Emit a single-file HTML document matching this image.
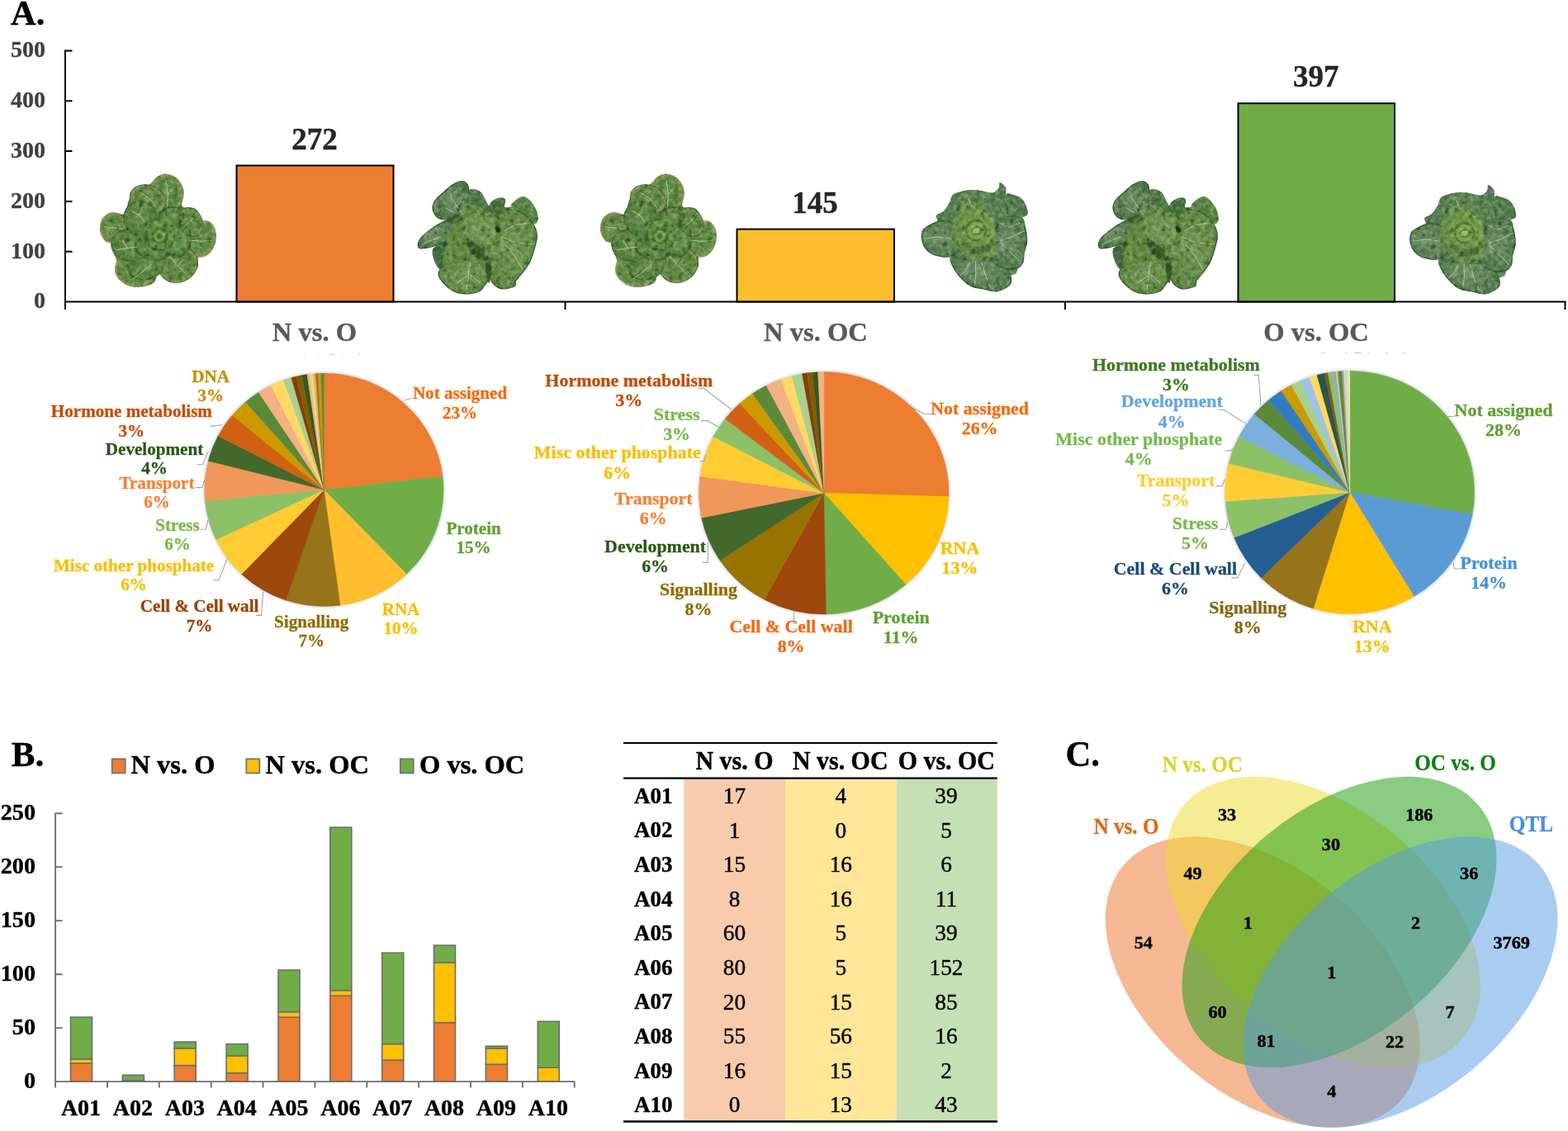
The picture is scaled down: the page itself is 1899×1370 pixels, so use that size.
<!DOCTYPE html>
<html lang="en"><head><meta charset="utf-8"><title>Figure</title>
<style>
html,body{margin:0;padding:0;background:#fff;}
body{width:1899px;height:1370px;overflow:hidden;}
svg{display:block;font-family:'Liberation Serif', 'Times New Roman', serif;}
text{white-space:pre;}
</style></head><body>
<svg width="1899" height="1370" viewBox="0 0 1899 1370">
<rect width="1899" height="1370" fill="#fff"/>
<g id="panelA">
<text x="13.0" y="29.5" font-size="42.5" fill="#000" font-weight="bold" text-anchor="start" stroke="#000" stroke-width="0.4" stroke-linejoin="round" >A.</text>
<rect x="286.5" y="200.5" width="190.0" height="165.1" fill="#ED7D31" stroke="#000" stroke-width="2"/>
<text x="380.9" y="181.1" font-size="37" fill="#262626" font-weight="bold" text-anchor="middle" stroke="#262626" stroke-width="0.4" stroke-linejoin="round" >272</text>
<rect x="892.5" y="277.6" width="190.5" height="88.0" fill="#FDBF2D" stroke="#000" stroke-width="2"/>
<text x="987.1" y="258.4" font-size="37" fill="#262626" font-weight="bold" text-anchor="middle" stroke="#262626" stroke-width="0.4" stroke-linejoin="round" >145</text>
<rect x="1499.5" y="125.2" width="189.5" height="240.4" fill="#70AD47" stroke="#000" stroke-width="2"/>
<text x="1593.7" y="105.1" font-size="37" fill="#262626" font-weight="bold" text-anchor="middle" stroke="#262626" stroke-width="0.4" stroke-linejoin="round" >397</text>
<path d="M79 60.4V375.1M78 365.6H1896.5" stroke="#000" stroke-width="2" fill="none"/>
<path d="M79 61.4h8.5M79 122.2h8.5M79 183.1h8.5M79 243.9h8.5M79 304.8h8.5M684.5 365.6v9.5M1290 365.6v9.5M1895.5 365.6v9.5" stroke="#000" stroke-width="2" fill="none"/>
<text x="55.0" y="69.1" font-size="28" fill="#404040" font-weight="bold" text-anchor="end" stroke="#404040" stroke-width="0.35" stroke-linejoin="round" >500</text>
<text x="55.0" y="129.9" font-size="28" fill="#404040" font-weight="bold" text-anchor="end" stroke="#404040" stroke-width="0.35" stroke-linejoin="round" >400</text>
<text x="55.0" y="190.8" font-size="28" fill="#404040" font-weight="bold" text-anchor="end" stroke="#404040" stroke-width="0.35" stroke-linejoin="round" >300</text>
<text x="55.0" y="251.6" font-size="28" fill="#404040" font-weight="bold" text-anchor="end" stroke="#404040" stroke-width="0.35" stroke-linejoin="round" >200</text>
<text x="55.0" y="312.5" font-size="28" fill="#404040" font-weight="bold" text-anchor="end" stroke="#404040" stroke-width="0.35" stroke-linejoin="round" >100</text>
<text x="55.0" y="373.3" font-size="28" fill="#404040" font-weight="bold" text-anchor="end" stroke="#404040" stroke-width="0.35" stroke-linejoin="round" >0</text>
<text x="381.0" y="413.4" font-size="32.6" fill="#595959" font-weight="bold" text-anchor="middle" stroke="#595959" stroke-width="0.35" stroke-linejoin="round" >N vs. O</text>
<text x="988.0" y="413.4" font-size="32.6" fill="#595959" font-weight="bold" text-anchor="middle" stroke="#595959" stroke-width="0.35" stroke-linejoin="round" >N vs. OC</text>
<text x="1594.0" y="413.4" font-size="32.6" fill="#595959" font-weight="bold" text-anchor="middle" stroke="#595959" stroke-width="0.35" stroke-linejoin="round" >O vs. OC</text>
</g>
<defs>
<radialGradient id="gN" cx="50%" cy="50%" r="50%"><stop offset="0" stop-color="#648d47"/><stop offset="0.65" stop-color="#527e37"/><stop offset="0.9" stop-color="#698940"/><stop offset="1" stop-color="#909059"/></radialGradient>
<radialGradient id="gNi" cx="50%" cy="50%" r="50%"><stop offset="0" stop-color="#628d45"/><stop offset="0.8" stop-color="#4d7a35"/><stop offset="1" stop-color="#44702e"/></radialGradient>
<radialGradient id="gO" cx="45%" cy="45%" r="60%"><stop offset="0" stop-color="#6c8c5f"/><stop offset="0.7" stop-color="#4d7748"/><stop offset="1" stop-color="#40693c"/></radialGradient>
<radialGradient id="gO2" cx="50%" cy="50%" r="60%"><stop offset="0" stop-color="#6e924f"/><stop offset="0.7" stop-color="#5b843e"/><stop offset="1" stop-color="#4d7735"/></radialGradient>
<radialGradient id="gC" cx="50%" cy="50%" r="60%"><stop offset="0" stop-color="#698c62"/><stop offset="0.7" stop-color="#4f784c"/><stop offset="1" stop-color="#416b40"/></radialGradient>
<radialGradient id="gCi" cx="50%" cy="50%" r="50%"><stop offset="0" stop-color="#79a14c"/><stop offset="0.7" stop-color="#5f8b3c"/><stop offset="1" stop-color="#527e37"/></radialGradient>
<filter id="soft" x="-5%" y="-5%" width="110%" height="110%" color-interpolation-filters="sRGB"><feGaussianBlur in="SourceGraphic" stdDeviation="4" result="b"/><feTurbulence type="fractalNoise" baseFrequency="0.02 0.02" numOctaves="3" seed="7" result="n"/><feColorMatrix in="n" type="matrix" values="0 0 0 0 0.85  0 0 0 0 0.93  0 0 0 0 0.75  0.8 0 0 0 -0.31" result="l"/><feComposite in="l" in2="b" operator="in" result="li"/><feColorMatrix in="n" type="matrix" values="0 0 0 0 0.08  0 0 0 0 0.18  0 0 0 0 0.05  0 -1.6 0 0 0.75" result="d"/><feComposite in="d" in2="b" operator="in" result="di"/><feMerge><feMergeNode in="b"/><feMergeNode in="di"/><feMergeNode in="li"/></feMerge></filter>
</defs>
<g transform="translate(110 200) scale(0.11675)"><g filter="url(#soft)">
<path d="M790 95C825 103 872 136 900 170C928 204 952 257 960 300C968 343 930 405 950 430C970 455 1047 428 1080 450C1113 472 1122 527 1150 560C1178 593 1226 613 1250 650C1274 687 1297 738 1295 780C1293 822 1269 872 1240 900C1211 928 1142 923 1120 950C1098 977 1125 1023 1110 1060C1095 1097 1065 1143 1030 1170C995 1197 945 1220 900 1220C855 1220 793 1185 760 1170C727 1155 720 1120 700 1130C680 1140 677 1208 640 1230C603 1252 532 1267 480 1262C428 1257 368 1230 330 1200C292 1170 266 1117 255 1080C244 1043 272 1017 265 980C258 943 219 892 215 860C211 828 251 802 240 790C229 778 173 812 150 790C127 768 103 702 100 660C97 618 105 568 130 540C155 512 213 501 250 495C287 489 325 529 350 505C375 481 378 394 400 350C422 306 445 265 480 240C515 215 575 220 610 200C645 180 660 138 690 120C720 102 755 87 790 95Z" fill="#4d7834"/>
<ellipse cx="450" cy="1110" rx="200" ry="150" transform="rotate(15 450 1110)" fill="url(#gN)" stroke="#8c8454" stroke-width="7"/>
<ellipse cx="225" cy="650" rx="128" ry="158" transform="rotate(5 225 650)" fill="url(#gN)" stroke="#8c8454" stroke-width="7"/>
<ellipse cx="1165" cy="765" rx="130" ry="190" transform="rotate(12 1165 765)" fill="url(#gN)" stroke="#8c8454" stroke-width="7"/>
<ellipse cx="790" cy="280" rx="170" ry="185" transform="rotate(-20 790 280)" fill="url(#gN)" stroke="#8c8454" stroke-width="7"/>
<ellipse cx="590" cy="355" rx="190" ry="145" transform="rotate(20 590 355)" fill="url(#gN)" stroke="#345c24" stroke-width="8"/>
<ellipse cx="1040" cy="590" rx="115" ry="155" transform="rotate(-25 1040 590)" fill="url(#gN)" stroke="#345c24" stroke-width="8"/>
<ellipse cx="905" cy="1035" rx="205" ry="180" transform="rotate(-25 905 1035)" fill="url(#gN)" stroke="#345c24" stroke-width="8"/>
<ellipse cx="570" cy="1065" rx="185" ry="120" transform="rotate(-10 570 1065)" fill="url(#gNi)" stroke="#345c24" stroke-width="9"/>
<ellipse cx="405" cy="835" rx="195" ry="160" transform="rotate(15 405 835)" fill="url(#gNi)" stroke="#345c24" stroke-width="9"/>
<ellipse cx="510" cy="550" rx="170" ry="178" fill="url(#gNi)" stroke="#345c24" stroke-width="9"/>
<ellipse cx="830" cy="535" rx="135" ry="100" transform="rotate(-10 830 535)" fill="url(#gNi)" stroke="#345c24" stroke-width="9"/>
<ellipse cx="920" cy="790" rx="115" ry="175" transform="rotate(15 920 790)" fill="url(#gNi)" stroke="#345c24" stroke-width="9"/>
<ellipse cx="640" cy="870" rx="185" ry="110" transform="rotate(15 640 870)" fill="url(#gNi)" stroke="#345c24" stroke-width="9"/>
<path d="M790 440L800 300L780 160M800 300L870 230M680 440L600 340L500 280M560 590L500 520L420 470M500 520L540 430M330 660L230 650L140 640M480 850L380 860L270 880M380 860L330 780M640 1020L560 1090L440 1180M820 950L900 1040L990 1130M900 1040L960 980M1020 780L1150 790L1260 780M960 640L1040 580L1100 500" fill="none" stroke="#d5e6bd" stroke-width="8" stroke-linecap="round" stroke-linejoin="round" opacity="0.7"/>
<ellipse cx="710" cy="745" rx="160" ry="150" fill="#3a6529"/>
<path d="M590 700C593 658 620 610 650 590C680 570 735 565 770 580C805 595 848 642 860 680C872 718 860 778 840 810C820 842 775 865 740 870C705 875 655 868 630 840C605 812 587 742 590 700Z" fill="#598a37"/>
<path d="M630 720C638 695 665 648 690 640C715 632 762 648 780 670C798 692 810 745 800 770C790 795 746 817 720 820C694 823 660 807 645 790C630 773 622 745 630 720Z" fill="#3a6729" opacity="0.9"/>
<path d="M655 730C662 713 687 678 705 675C723 672 756 693 765 710C774 727 770 760 760 775C750 790 721 800 705 800C689 800 673 787 665 775C657 763 648 747 655 730Z" fill="#699940"/>
<path d="M685 735C688 726 706 710 715 710C724 710 738 726 740 735C742 744 732 760 725 765C718 770 702 767 695 762C688 757 682 744 685 735Z" fill="#406c2b"/>
</g></g>
<g transform="translate(495 205) scale(0.11675)"><g filter="url(#soft)">
<path d="M550 125C568 125 601 148 610 160C619 172 616 224 625 230C634 236 674 208 690 210C706 212 747 236 760 250C773 264 792 315 800 330C808 345 824 378 830 380C836 382 838 359 850 350C862 341 912 305 930 300C948 295 993 300 1000 310C1007 320 983 381 990 390C997 399 1047 397 1060 390C1073 383 1085 342 1100 330C1115 318 1171 285 1190 285C1209 285 1245 314 1260 330C1275 346 1311 398 1320 420C1329 442 1342 502 1340 520C1338 538 1301 551 1300 570C1299 589 1329 653 1330 680C1331 707 1318 768 1310 800C1302 832 1274 920 1260 950C1246 980 1208 1036 1190 1060C1172 1084 1120 1142 1110 1160C1100 1178 1116 1201 1100 1210C1084 1219 996 1242 970 1240C944 1238 895 1206 880 1190C865 1174 850 1099 840 1100C830 1101 802 1181 790 1200C778 1219 758 1250 740 1260C722 1270 668 1288 640 1290C612 1292 530 1290 500 1280C470 1270 402 1222 380 1200C358 1178 317 1109 310 1090C303 1071 325 1055 320 1040C315 1025 278 984 270 960C262 936 243 852 250 830C257 808 345 771 330 770C315 769 147 820 120 820C93 820 96 785 100 770C104 755 123 714 150 690C177 666 301 580 330 560C359 540 404 527 400 520C396 513 318 513 300 500C282 487 254 430 250 410C246 390 258 349 270 330C282 311 328 270 350 250C372 230 437 175 460 160C483 145 532 125 550 125Z" fill="#446d39"/>
<path d="M100 770C105 748 112 725 150 690C188 655 282 585 330 560C378 535 417 527 440 540C463 553 477 607 470 640C463 673 437 713 400 740C363 767 297 787 250 800C203 813 145 825 120 820C95 815 95 792 100 770Z" fill="url(#gO)" stroke="#2e5328" stroke-width="12"/>
<path d="M250 830C268 798 355 758 380 770C405 782 403 855 400 900C397 945 373 1017 360 1040C347 1063 335 1053 320 1040C305 1027 282 995 270 960C258 925 232 862 250 830Z" fill="#396437"/>
<path d="M550 125C575 125 598 142 610 160C622 178 618 203 625 230C632 257 651 288 650 320C649 352 642 392 620 420C598 448 557 473 520 490C483 507 437 518 400 520C363 522 325 518 300 500C275 482 255 438 250 410C245 382 253 357 270 330C287 303 318 278 350 250C382 222 427 181 460 160C493 139 525 125 550 125Z" fill="url(#gO)" stroke="#2e5328" stroke-width="12"/>
<path d="M620 230C632 198 667 207 690 210C713 213 742 230 760 250C778 270 788 303 800 330C812 357 848 392 835 410C822 428 756 442 720 440C684 438 637 435 620 400C603 365 608 262 620 230Z" fill="#477140"/>
<path d="M850 350C862 325 905 307 930 300C955 293 990 295 1000 310C1010 325 998 360 990 390C982 420 972 480 950 490C928 500 877 473 860 450C843 427 838 375 850 350Z" fill="#3b6934"/>
<path d="M1060 390C1060 368 1078 348 1100 330C1122 312 1163 285 1190 285C1217 285 1238 308 1260 330C1282 352 1307 388 1320 420C1333 452 1343 495 1340 520C1337 545 1323 570 1300 570C1277 570 1233 538 1200 520C1167 502 1123 482 1100 460C1077 438 1060 412 1060 390Z" fill="#517e3e" stroke="#849043" stroke-width="5"/>
<path d="M940 480C970 433 1017 422 1060 420C1103 418 1162 445 1200 470C1238 495 1268 535 1290 570C1312 605 1327 642 1330 680C1333 718 1322 755 1310 800C1298 845 1280 907 1260 950C1240 993 1215 1025 1190 1060C1165 1095 1125 1135 1110 1160C1095 1185 1123 1197 1100 1210C1077 1223 1007 1243 970 1240C933 1237 902 1213 880 1190C858 1167 850 1148 840 1100C830 1052 813 967 820 900C827 833 860 770 880 700C900 630 910 527 940 480Z" fill="url(#gO2)" stroke="#325b24" stroke-width="12"/>
<path d="M310 1090C310 1057 328 1025 380 1000C432 975 550 948 620 940C690 932 762 923 800 950C838 977 847 1058 845 1100C843 1142 808 1173 790 1200C772 1227 765 1245 740 1260C715 1275 680 1287 640 1290C600 1293 543 1295 500 1280C457 1265 412 1232 380 1200C348 1168 310 1123 310 1090Z" fill="url(#gO2)" stroke="#325b24" stroke-width="12"/>
<path d="M520 450C552 429 628 385 680 385C732 385 783 421 830 450C877 479 936 527 960 560C984 593 978 610 975 650C972 690 959 773 940 800C921 827 883 793 860 810C837 827 817 875 800 900C783 925 790 950 760 960C730 970 683 953 620 960C557 967 422 1010 380 1000C338 990 363 957 370 900C377 843 400 725 420 660C440 595 473 545 490 510C507 475 488 471 520 450Z" fill="#578137" stroke="#7b9649" stroke-width="6"/>
<path d="M600 720C610 707 668 758 700 780C732 802 780 823 790 850C800 877 785 938 760 940C735 942 667 897 640 860C613 823 590 733 600 720Z" fill="#284d1d" opacity="0.9"/>
<path d="M820 900C832 907 855 963 860 1000C865 1037 855 1090 850 1120C845 1150 838 1187 830 1180C822 1173 807 1117 800 1080C793 1043 787 990 790 960C793 930 808 893 820 900Z" fill="#284d1d" opacity="0.85"/>
<path d="M430 500C438 485 498 467 520 470C542 473 568 505 560 520C552 535 492 563 470 560C448 557 422 515 430 500Z" fill="#284d1d" opacity="0.7"/>
<path d="M560 560C567 523 613 483 650 470C687 457 740 462 780 480C820 498 870 543 890 580C910 617 912 665 900 700C888 735 853 780 820 790C787 800 735 777 700 760C665 743 633 723 610 690C587 657 553 597 560 560Z" fill="#69904a"/>
<path d="M900 590C908 587 943 608 950 620C957 632 948 657 940 660C932 663 912 652 905 640C898 628 892 593 900 590Z" fill="#1b3413"/>
<path d="M560 470L500 380L430 280M500 380L560 300M470 450L380 400M640 960L620 1100L600 1250M620 1100L500 1180M620 1080L740 1180M960 700L1100 760L1280 780M1000 780L1100 900L1180 1040M330 700L230 740L140 780M990 640L1100 580L1220 560" fill="none" stroke="#dbead0" stroke-width="8" stroke-linecap="round" stroke-linejoin="round" opacity="0.7"/>
</g></g>
<g transform="translate(716 200) scale(0.11675)"><g filter="url(#soft)">
<path d="M790 95C825 103 872 136 900 170C928 204 952 257 960 300C968 343 930 405 950 430C970 455 1047 428 1080 450C1113 472 1122 527 1150 560C1178 593 1226 613 1250 650C1274 687 1297 738 1295 780C1293 822 1269 872 1240 900C1211 928 1142 923 1120 950C1098 977 1125 1023 1110 1060C1095 1097 1065 1143 1030 1170C995 1197 945 1220 900 1220C855 1220 793 1185 760 1170C727 1155 720 1120 700 1130C680 1140 677 1208 640 1230C603 1252 532 1267 480 1262C428 1257 368 1230 330 1200C292 1170 266 1117 255 1080C244 1043 272 1017 265 980C258 943 219 892 215 860C211 828 251 802 240 790C229 778 173 812 150 790C127 768 103 702 100 660C97 618 105 568 130 540C155 512 213 501 250 495C287 489 325 529 350 505C375 481 378 394 400 350C422 306 445 265 480 240C515 215 575 220 610 200C645 180 660 138 690 120C720 102 755 87 790 95Z" fill="#4d7834"/>
<ellipse cx="450" cy="1110" rx="200" ry="150" transform="rotate(15 450 1110)" fill="url(#gN)" stroke="#8c8454" stroke-width="7"/>
<ellipse cx="225" cy="650" rx="128" ry="158" transform="rotate(5 225 650)" fill="url(#gN)" stroke="#8c8454" stroke-width="7"/>
<ellipse cx="1165" cy="765" rx="130" ry="190" transform="rotate(12 1165 765)" fill="url(#gN)" stroke="#8c8454" stroke-width="7"/>
<ellipse cx="790" cy="280" rx="170" ry="185" transform="rotate(-20 790 280)" fill="url(#gN)" stroke="#8c8454" stroke-width="7"/>
<ellipse cx="590" cy="355" rx="190" ry="145" transform="rotate(20 590 355)" fill="url(#gN)" stroke="#345c24" stroke-width="8"/>
<ellipse cx="1040" cy="590" rx="115" ry="155" transform="rotate(-25 1040 590)" fill="url(#gN)" stroke="#345c24" stroke-width="8"/>
<ellipse cx="905" cy="1035" rx="205" ry="180" transform="rotate(-25 905 1035)" fill="url(#gN)" stroke="#345c24" stroke-width="8"/>
<ellipse cx="570" cy="1065" rx="185" ry="120" transform="rotate(-10 570 1065)" fill="url(#gNi)" stroke="#345c24" stroke-width="9"/>
<ellipse cx="405" cy="835" rx="195" ry="160" transform="rotate(15 405 835)" fill="url(#gNi)" stroke="#345c24" stroke-width="9"/>
<ellipse cx="510" cy="550" rx="170" ry="178" fill="url(#gNi)" stroke="#345c24" stroke-width="9"/>
<ellipse cx="830" cy="535" rx="135" ry="100" transform="rotate(-10 830 535)" fill="url(#gNi)" stroke="#345c24" stroke-width="9"/>
<ellipse cx="920" cy="790" rx="115" ry="175" transform="rotate(15 920 790)" fill="url(#gNi)" stroke="#345c24" stroke-width="9"/>
<ellipse cx="640" cy="870" rx="185" ry="110" transform="rotate(15 640 870)" fill="url(#gNi)" stroke="#345c24" stroke-width="9"/>
<path d="M790 440L800 300L780 160M800 300L870 230M680 440L600 340L500 280M560 590L500 520L420 470M500 520L540 430M330 660L230 650L140 640M480 850L380 860L270 880M380 860L330 780M640 1020L560 1090L440 1180M820 950L900 1040L990 1130M900 1040L960 980M1020 780L1150 790L1260 780M960 640L1040 580L1100 500" fill="none" stroke="#d5e6bd" stroke-width="8" stroke-linecap="round" stroke-linejoin="round" opacity="0.7"/>
<ellipse cx="710" cy="745" rx="160" ry="150" fill="#3a6529"/>
<path d="M590 700C593 658 620 610 650 590C680 570 735 565 770 580C805 595 848 642 860 680C872 718 860 778 840 810C820 842 775 865 740 870C705 875 655 868 630 840C605 812 587 742 590 700Z" fill="#598a37"/>
<path d="M630 720C638 695 665 648 690 640C715 632 762 648 780 670C798 692 810 745 800 770C790 795 746 817 720 820C694 823 660 807 645 790C630 773 622 745 630 720Z" fill="#3a6729" opacity="0.9"/>
<path d="M655 730C662 713 687 678 705 675C723 672 756 693 765 710C774 727 770 760 760 775C750 790 721 800 705 800C689 800 673 787 665 775C657 763 648 747 655 730Z" fill="#699940"/>
<path d="M685 735C688 726 706 710 715 710C724 710 738 726 740 735C742 744 732 760 725 765C718 770 702 767 695 762C688 757 682 744 685 735Z" fill="#406c2b"/>
</g></g>
<g transform="translate(1100 205) scale(0.11675)"><g filter="url(#soft)">
<path d="M950 135C962 135 998 169 1010 190C1022 211 1005 247 1020 260C1035 273 1073 262 1100 270C1127 278 1159 290 1180 310C1201 330 1216 363 1225 390C1234 417 1244 452 1235 470C1226 488 1174 478 1170 500C1166 522 1200 560 1210 600C1220 640 1232 695 1230 740C1228 785 1207 833 1200 870C1193 907 1200 935 1190 960C1180 985 1152 1000 1140 1020C1128 1040 1133 1065 1120 1080C1107 1095 1072 1090 1060 1110C1048 1130 1073 1174 1050 1200C1027 1226 965 1258 920 1265C875 1272 825 1249 780 1240C735 1231 687 1227 650 1210C613 1193 590 1172 560 1140C530 1108 490 1058 470 1020C450 982 462 929 440 910C418 891 377 913 340 905C303 897 252 884 220 860C188 836 162 797 150 760C138 723 140 668 150 640C160 612 185 607 210 590C235 573 287 558 300 540C313 522 278 498 290 480C302 462 347 453 370 430C393 407 415 367 430 340C445 313 438 288 460 270C482 252 522 239 560 230C598 221 647 213 690 215C733 217 787 236 820 240C853 244 870 248 890 240C910 232 930 208 940 190C950 172 938 135 950 135Z" fill="#4d7749"/>
<path d="M150 640C160 612 180 607 210 590C240 573 290 545 330 540C370 535 418 533 450 560C482 587 505 657 520 700C535 743 553 787 540 820C527 853 473 886 440 900C407 914 377 912 340 905C303 898 252 884 220 860C188 836 162 797 150 760C138 723 140 668 150 640Z" fill="url(#gC)" stroke="#325b32" stroke-width="12"/>
<path d="M440 910C455 883 507 853 560 860C613 867 693 933 760 950C827 967 910 933 960 960C1010 987 1045 1070 1060 1110C1075 1150 1073 1174 1050 1200C1027 1226 965 1258 920 1265C875 1272 825 1249 780 1240C735 1231 687 1227 650 1210C613 1193 590 1172 560 1140C530 1108 490 1058 470 1020C450 982 425 937 440 910Z" fill="url(#gC)" stroke="#325b32" stroke-width="12"/>
<path d="M900 640C928 582 955 523 1000 500C1045 477 1135 483 1170 500C1205 517 1200 560 1210 600C1220 640 1232 695 1230 740C1228 785 1207 833 1200 870C1193 907 1200 935 1190 960C1180 985 1172 1008 1140 1020C1108 1032 1043 1040 1000 1030C957 1020 908 990 880 960C852 930 827 903 830 850C833 797 872 698 900 640Z" fill="url(#gC)" stroke="#325b32" stroke-width="12"/>
<path d="M460 270C473 248 522 239 560 230C598 221 647 213 690 215C733 217 778 226 820 240C862 254 908 270 940 300C972 330 1007 377 1010 420C1013 463 985 550 960 560C935 570 903 507 860 480C817 453 753 410 700 400C647 390 577 427 540 420C503 413 493 385 480 360C467 335 447 292 460 270Z" fill="#527b4c"/>
<path d="M1020 260C1035 238 1073 262 1100 270C1127 278 1159 290 1180 310C1201 330 1216 363 1225 390C1234 417 1244 452 1235 470C1226 488 1196 500 1170 500C1144 500 1107 487 1080 470C1053 453 1020 435 1010 400C1000 365 1005 282 1020 260Z" fill="#4a7347"/>
<path d="M470 560C483 513 492 455 520 420C548 385 597 357 640 350C683 343 742 355 780 380C818 405 850 457 870 500C890 543 892 593 900 640C908 687 923 737 920 780C917 823 907 872 880 900C853 928 803 948 760 950C717 952 663 935 620 910C577 885 530 835 500 800C470 765 445 740 440 700C435 660 457 607 470 560Z" fill="#5b8640" stroke="#6e934d" stroke-width="5"/>
<path d="M560 780C560 768 623 798 660 800C697 802 747 803 780 790C813 777 843 718 860 720C877 722 890 775 880 800C870 825 837 858 800 870C763 882 700 885 660 870C620 855 560 792 560 780Z" fill="#325b24" opacity="0.55"/>
<path d="M540 600C543 553 577 490 610 460C643 430 700 412 740 420C780 428 825 473 850 510C875 547 893 597 890 640C887 683 862 743 830 770C798 797 740 805 700 800C660 795 617 773 590 740C563 707 537 647 540 600Z" fill="#679441"/>
<path d="M590 620C595 590 622 545 650 530C678 515 732 515 760 530C788 545 810 590 815 620C820 650 809 688 790 710C771 732 728 750 700 750C672 750 638 732 620 710C602 688 585 650 590 620Z" fill="#416d2b" opacity="0.8"/>
<path d="M610 620C615 597 642 565 665 555C688 545 728 548 750 560C772 572 792 602 795 625C798 648 786 678 770 695C754 712 722 725 700 725C678 725 650 712 635 695C620 678 605 643 610 620Z" fill="#7ba54d"/>
<path d="M650 630C653 615 674 595 690 590C706 585 733 590 745 600C757 610 764 635 760 650C756 665 735 685 720 690C705 695 682 690 670 680C658 670 647 645 650 630Z" fill="#44702d" opacity="0.8"/>
<ellipse cx="705" cy="640" rx="38" ry="26" transform="rotate(-20 705 640)" fill="#90b360"/>
<path d="M760 960L800 1100L850 1220M700 960L700 1100L690 1190M640 960L590 1060L540 1100M960 740L1080 700L1200 640M960 760L1060 860L1160 960M440 720L300 700L180 720M620 300L660 380M950 560L1040 600L1160 560" fill="none" stroke="#dbead0" stroke-width="8" stroke-linecap="round" stroke-linejoin="round" opacity="0.7"/>
</g></g>
<g transform="translate(1319 205) scale(0.11675)"><g filter="url(#soft)">
<path d="M550 125C568 125 601 148 610 160C619 172 616 224 625 230C634 236 674 208 690 210C706 212 747 236 760 250C773 264 792 315 800 330C808 345 824 378 830 380C836 382 838 359 850 350C862 341 912 305 930 300C948 295 993 300 1000 310C1007 320 983 381 990 390C997 399 1047 397 1060 390C1073 383 1085 342 1100 330C1115 318 1171 285 1190 285C1209 285 1245 314 1260 330C1275 346 1311 398 1320 420C1329 442 1342 502 1340 520C1338 538 1301 551 1300 570C1299 589 1329 653 1330 680C1331 707 1318 768 1310 800C1302 832 1274 920 1260 950C1246 980 1208 1036 1190 1060C1172 1084 1120 1142 1110 1160C1100 1178 1116 1201 1100 1210C1084 1219 996 1242 970 1240C944 1238 895 1206 880 1190C865 1174 850 1099 840 1100C830 1101 802 1181 790 1200C778 1219 758 1250 740 1260C722 1270 668 1288 640 1290C612 1292 530 1290 500 1280C470 1270 402 1222 380 1200C358 1178 317 1109 310 1090C303 1071 325 1055 320 1040C315 1025 278 984 270 960C262 936 243 852 250 830C257 808 345 771 330 770C315 769 147 820 120 820C93 820 96 785 100 770C104 755 123 714 150 690C177 666 301 580 330 560C359 540 404 527 400 520C396 513 318 513 300 500C282 487 254 430 250 410C246 390 258 349 270 330C282 311 328 270 350 250C372 230 437 175 460 160C483 145 532 125 550 125Z" fill="#446d39"/>
<path d="M100 770C105 748 112 725 150 690C188 655 282 585 330 560C378 535 417 527 440 540C463 553 477 607 470 640C463 673 437 713 400 740C363 767 297 787 250 800C203 813 145 825 120 820C95 815 95 792 100 770Z" fill="url(#gO)" stroke="#2e5328" stroke-width="12"/>
<path d="M250 830C268 798 355 758 380 770C405 782 403 855 400 900C397 945 373 1017 360 1040C347 1063 335 1053 320 1040C305 1027 282 995 270 960C258 925 232 862 250 830Z" fill="#396437"/>
<path d="M550 125C575 125 598 142 610 160C622 178 618 203 625 230C632 257 651 288 650 320C649 352 642 392 620 420C598 448 557 473 520 490C483 507 437 518 400 520C363 522 325 518 300 500C275 482 255 438 250 410C245 382 253 357 270 330C287 303 318 278 350 250C382 222 427 181 460 160C493 139 525 125 550 125Z" fill="url(#gO)" stroke="#2e5328" stroke-width="12"/>
<path d="M620 230C632 198 667 207 690 210C713 213 742 230 760 250C778 270 788 303 800 330C812 357 848 392 835 410C822 428 756 442 720 440C684 438 637 435 620 400C603 365 608 262 620 230Z" fill="#477140"/>
<path d="M850 350C862 325 905 307 930 300C955 293 990 295 1000 310C1010 325 998 360 990 390C982 420 972 480 950 490C928 500 877 473 860 450C843 427 838 375 850 350Z" fill="#3b6934"/>
<path d="M1060 390C1060 368 1078 348 1100 330C1122 312 1163 285 1190 285C1217 285 1238 308 1260 330C1282 352 1307 388 1320 420C1333 452 1343 495 1340 520C1337 545 1323 570 1300 570C1277 570 1233 538 1200 520C1167 502 1123 482 1100 460C1077 438 1060 412 1060 390Z" fill="#517e3e" stroke="#849043" stroke-width="5"/>
<path d="M940 480C970 433 1017 422 1060 420C1103 418 1162 445 1200 470C1238 495 1268 535 1290 570C1312 605 1327 642 1330 680C1333 718 1322 755 1310 800C1298 845 1280 907 1260 950C1240 993 1215 1025 1190 1060C1165 1095 1125 1135 1110 1160C1095 1185 1123 1197 1100 1210C1077 1223 1007 1243 970 1240C933 1237 902 1213 880 1190C858 1167 850 1148 840 1100C830 1052 813 967 820 900C827 833 860 770 880 700C900 630 910 527 940 480Z" fill="url(#gO2)" stroke="#325b24" stroke-width="12"/>
<path d="M310 1090C310 1057 328 1025 380 1000C432 975 550 948 620 940C690 932 762 923 800 950C838 977 847 1058 845 1100C843 1142 808 1173 790 1200C772 1227 765 1245 740 1260C715 1275 680 1287 640 1290C600 1293 543 1295 500 1280C457 1265 412 1232 380 1200C348 1168 310 1123 310 1090Z" fill="url(#gO2)" stroke="#325b24" stroke-width="12"/>
<path d="M520 450C552 429 628 385 680 385C732 385 783 421 830 450C877 479 936 527 960 560C984 593 978 610 975 650C972 690 959 773 940 800C921 827 883 793 860 810C837 827 817 875 800 900C783 925 790 950 760 960C730 970 683 953 620 960C557 967 422 1010 380 1000C338 990 363 957 370 900C377 843 400 725 420 660C440 595 473 545 490 510C507 475 488 471 520 450Z" fill="#578137" stroke="#7b9649" stroke-width="6"/>
<path d="M600 720C610 707 668 758 700 780C732 802 780 823 790 850C800 877 785 938 760 940C735 942 667 897 640 860C613 823 590 733 600 720Z" fill="#284d1d" opacity="0.9"/>
<path d="M820 900C832 907 855 963 860 1000C865 1037 855 1090 850 1120C845 1150 838 1187 830 1180C822 1173 807 1117 800 1080C793 1043 787 990 790 960C793 930 808 893 820 900Z" fill="#284d1d" opacity="0.85"/>
<path d="M430 500C438 485 498 467 520 470C542 473 568 505 560 520C552 535 492 563 470 560C448 557 422 515 430 500Z" fill="#284d1d" opacity="0.7"/>
<path d="M560 560C567 523 613 483 650 470C687 457 740 462 780 480C820 498 870 543 890 580C910 617 912 665 900 700C888 735 853 780 820 790C787 800 735 777 700 760C665 743 633 723 610 690C587 657 553 597 560 560Z" fill="#69904a"/>
<path d="M900 590C908 587 943 608 950 620C957 632 948 657 940 660C932 663 912 652 905 640C898 628 892 593 900 590Z" fill="#1b3413"/>
<path d="M560 470L500 380L430 280M500 380L560 300M470 450L380 400M640 960L620 1100L600 1250M620 1100L500 1180M620 1080L740 1180M960 700L1100 760L1280 780M1000 780L1100 900L1180 1040M330 700L230 740L140 780M990 640L1100 580L1220 560" fill="none" stroke="#dbead0" stroke-width="8" stroke-linecap="round" stroke-linejoin="round" opacity="0.7"/>
</g></g>
<g transform="translate(1691.5 208) scale(0.11675)"><g filter="url(#soft)">
<path d="M950 135C962 135 998 169 1010 190C1022 211 1005 247 1020 260C1035 273 1073 262 1100 270C1127 278 1159 290 1180 310C1201 330 1216 363 1225 390C1234 417 1244 452 1235 470C1226 488 1174 478 1170 500C1166 522 1200 560 1210 600C1220 640 1232 695 1230 740C1228 785 1207 833 1200 870C1193 907 1200 935 1190 960C1180 985 1152 1000 1140 1020C1128 1040 1133 1065 1120 1080C1107 1095 1072 1090 1060 1110C1048 1130 1073 1174 1050 1200C1027 1226 965 1258 920 1265C875 1272 825 1249 780 1240C735 1231 687 1227 650 1210C613 1193 590 1172 560 1140C530 1108 490 1058 470 1020C450 982 462 929 440 910C418 891 377 913 340 905C303 897 252 884 220 860C188 836 162 797 150 760C138 723 140 668 150 640C160 612 185 607 210 590C235 573 287 558 300 540C313 522 278 498 290 480C302 462 347 453 370 430C393 407 415 367 430 340C445 313 438 288 460 270C482 252 522 239 560 230C598 221 647 213 690 215C733 217 787 236 820 240C853 244 870 248 890 240C910 232 930 208 940 190C950 172 938 135 950 135Z" fill="#4d7749"/>
<path d="M150 640C160 612 180 607 210 590C240 573 290 545 330 540C370 535 418 533 450 560C482 587 505 657 520 700C535 743 553 787 540 820C527 853 473 886 440 900C407 914 377 912 340 905C303 898 252 884 220 860C188 836 162 797 150 760C138 723 140 668 150 640Z" fill="url(#gC)" stroke="#325b32" stroke-width="12"/>
<path d="M440 910C455 883 507 853 560 860C613 867 693 933 760 950C827 967 910 933 960 960C1010 987 1045 1070 1060 1110C1075 1150 1073 1174 1050 1200C1027 1226 965 1258 920 1265C875 1272 825 1249 780 1240C735 1231 687 1227 650 1210C613 1193 590 1172 560 1140C530 1108 490 1058 470 1020C450 982 425 937 440 910Z" fill="url(#gC)" stroke="#325b32" stroke-width="12"/>
<path d="M900 640C928 582 955 523 1000 500C1045 477 1135 483 1170 500C1205 517 1200 560 1210 600C1220 640 1232 695 1230 740C1228 785 1207 833 1200 870C1193 907 1200 935 1190 960C1180 985 1172 1008 1140 1020C1108 1032 1043 1040 1000 1030C957 1020 908 990 880 960C852 930 827 903 830 850C833 797 872 698 900 640Z" fill="url(#gC)" stroke="#325b32" stroke-width="12"/>
<path d="M460 270C473 248 522 239 560 230C598 221 647 213 690 215C733 217 778 226 820 240C862 254 908 270 940 300C972 330 1007 377 1010 420C1013 463 985 550 960 560C935 570 903 507 860 480C817 453 753 410 700 400C647 390 577 427 540 420C503 413 493 385 480 360C467 335 447 292 460 270Z" fill="#527b4c"/>
<path d="M1020 260C1035 238 1073 262 1100 270C1127 278 1159 290 1180 310C1201 330 1216 363 1225 390C1234 417 1244 452 1235 470C1226 488 1196 500 1170 500C1144 500 1107 487 1080 470C1053 453 1020 435 1010 400C1000 365 1005 282 1020 260Z" fill="#4a7347"/>
<path d="M470 560C483 513 492 455 520 420C548 385 597 357 640 350C683 343 742 355 780 380C818 405 850 457 870 500C890 543 892 593 900 640C908 687 923 737 920 780C917 823 907 872 880 900C853 928 803 948 760 950C717 952 663 935 620 910C577 885 530 835 500 800C470 765 445 740 440 700C435 660 457 607 470 560Z" fill="#5b8640" stroke="#6e934d" stroke-width="5"/>
<path d="M560 780C560 768 623 798 660 800C697 802 747 803 780 790C813 777 843 718 860 720C877 722 890 775 880 800C870 825 837 858 800 870C763 882 700 885 660 870C620 855 560 792 560 780Z" fill="#325b24" opacity="0.55"/>
<path d="M540 600C543 553 577 490 610 460C643 430 700 412 740 420C780 428 825 473 850 510C875 547 893 597 890 640C887 683 862 743 830 770C798 797 740 805 700 800C660 795 617 773 590 740C563 707 537 647 540 600Z" fill="#679441"/>
<path d="M590 620C595 590 622 545 650 530C678 515 732 515 760 530C788 545 810 590 815 620C820 650 809 688 790 710C771 732 728 750 700 750C672 750 638 732 620 710C602 688 585 650 590 620Z" fill="#416d2b" opacity="0.8"/>
<path d="M610 620C615 597 642 565 665 555C688 545 728 548 750 560C772 572 792 602 795 625C798 648 786 678 770 695C754 712 722 725 700 725C678 725 650 712 635 695C620 678 605 643 610 620Z" fill="#7ba54d"/>
<path d="M650 630C653 615 674 595 690 590C706 585 733 590 745 600C757 610 764 635 760 650C756 665 735 685 720 690C705 695 682 690 670 680C658 670 647 645 650 630Z" fill="#44702d" opacity="0.8"/>
<ellipse cx="705" cy="640" rx="38" ry="26" transform="rotate(-20 705 640)" fill="#90b360"/>
<path d="M760 960L800 1100L850 1220M700 960L700 1100L690 1190M640 960L590 1060L540 1100M960 740L1080 700L1200 640M960 760L1060 860L1160 960M440 720L300 700L180 720M620 300L660 380M950 560L1040 600L1160 560" fill="none" stroke="#dbead0" stroke-width="8" stroke-linecap="round" stroke-linejoin="round" opacity="0.7"/>
</g></g>
<defs><filter id="pshadow" x="-10%" y="-10%" width="120%" height="120%"><feGaussianBlur stdDeviation="1.1"/></filter></defs>
<path d="M368 429.2H369.5M386 429.2H387.3M398 429.2H405.5M414 429.2H415.3M434 429.2H436.5M1601.3 427.4H1604.5M1629.3 427.4H1630.6M1640.5 427.4H1648.7M1657.8 427.4H1659M1678.4 427.4H1681M1699.3 427.4H1701.8" stroke="#9a9a9a" stroke-width="1.1" fill="none" opacity="0.55"/>
<g transform="translate(392.4 593.3) scale(1.4470 1.4120)">
<circle r="101.2" fill="#5a6a80" opacity="0.22" filter="url(#pshadow)"/>
<path d="M0 0L0.00 -100.00A100 100 0 0 1 99.34 -11.49Z" fill="#ED7D31" stroke="#ED7D31" stroke-width="0.3" stroke-linejoin="round"/>
<path d="M0 0L99.34 -11.49A100 100 0 0 1 69.09 72.30Z" fill="#70AD47" stroke="#70AD47" stroke-width="0.3" stroke-linejoin="round"/>
<path d="M0 0L69.09 72.30A100 100 0 0 1 13.57 99.07Z" fill="#FDBF2D" stroke="#FDBF2D" stroke-width="0.3" stroke-linejoin="round"/>
<path d="M0 0L13.57 99.07A100 100 0 0 1 -31.73 94.83Z" fill="#97731A" stroke="#97731A" stroke-width="0.3" stroke-linejoin="round"/>
<path d="M0 0L-31.73 94.83A100 100 0 0 1 -69.09 72.30Z" fill="#9E480E" stroke="#9E480E" stroke-width="0.3" stroke-linejoin="round"/>
<path d="M0 0L-69.09 72.30A100 100 0 0 1 -90.33 42.89Z" fill="#FFCD33" stroke="#FFCD33" stroke-width="0.3" stroke-linejoin="round"/>
<path d="M0 0L-90.33 42.89A100 100 0 0 1 -99.56 9.41Z" fill="#8CC168" stroke="#8CC168" stroke-width="0.3" stroke-linejoin="round"/>
<path d="M0 0L-99.56 9.41A100 100 0 0 1 -96.90 -24.70Z" fill="#F1975A" stroke="#F1975A" stroke-width="0.3" stroke-linejoin="round"/>
<path d="M0 0L-96.90 -24.70A100 100 0 0 1 -88.62 -46.33Z" fill="#43682B" stroke="#43682B" stroke-width="0.3" stroke-linejoin="round"/>
<path d="M0 0L-88.62 -46.33A100 100 0 0 1 -76.83 -64.01Z" fill="#D26012" stroke="#D26012" stroke-width="0.3" stroke-linejoin="round"/>
<path d="M0 0L-76.83 -64.01A100 100 0 0 1 -65.74 -75.36Z" fill="#CC9A00" stroke="#CC9A00" stroke-width="0.3" stroke-linejoin="round"/>
<path d="M0 0L-65.74 -75.36A100 100 0 0 1 -54.76 -83.68Z" fill="#5A8A39" stroke="#5A8A39" stroke-width="0.3" stroke-linejoin="round"/>
<path d="M0 0L-54.76 -83.68A100 100 0 0 1 -44.46 -89.57Z" fill="#F4B183" stroke="#F4B183" stroke-width="0.3" stroke-linejoin="round"/>
<path d="M0 0L-44.46 -89.57A100 100 0 0 1 -33.87 -94.09Z" fill="#FFD966" stroke="#FFD966" stroke-width="0.3" stroke-linejoin="round"/>
<path d="M0 0L-33.87 -94.09A100 100 0 0 1 -27.40 -96.17Z" fill="#A9D18E" stroke="#A9D18E" stroke-width="0.3" stroke-linejoin="round"/>
<path d="M0 0L-27.40 -96.17A100 100 0 0 1 -23.43 -97.22Z" fill="#843C0C" stroke="#843C0C" stroke-width="0.3" stroke-linejoin="round"/>
<path d="M0 0L-23.43 -97.22A100 100 0 0 1 -18.40 -98.29Z" fill="#7F6000" stroke="#7F6000" stroke-width="0.3" stroke-linejoin="round"/>
<path d="M0 0L-18.40 -98.29A100 100 0 0 1 -14.09 -99.00Z" fill="#375623" stroke="#375623" stroke-width="0.3" stroke-linejoin="round"/>
<path d="M0 0L-14.09 -99.00A100 100 0 0 1 -11.84 -99.30Z" fill="#F4B183" stroke="#F4B183" stroke-width="0.3" stroke-linejoin="round"/>
<path d="M0 0L-11.84 -99.30A100 100 0 0 1 -9.41 -99.56Z" fill="#FFD966" stroke="#FFD966" stroke-width="0.3" stroke-linejoin="round"/>
<path d="M0 0L-9.41 -99.56A100 100 0 0 1 -7.15 -99.74Z" fill="#A9D18E" stroke="#A9D18E" stroke-width="0.3" stroke-linejoin="round"/>
<path d="M0 0L-7.15 -99.74A100 100 0 0 1 -4.71 -99.89Z" fill="#D26012" stroke="#D26012" stroke-width="0.3" stroke-linejoin="round"/>
<path d="M0 0L-4.71 -99.89A100 100 0 0 1 -2.44 -99.97Z" fill="#CC9A00" stroke="#CC9A00" stroke-width="0.3" stroke-linejoin="round"/>
<path d="M0 0L-2.44 -99.97A100 100 0 0 1 -0.00 -100.00Z" fill="#5A8A39" stroke="#5A8A39" stroke-width="0.3" stroke-linejoin="round"/>
</g>
<path d="M490.2 484.8L498.8 482.2M254.8 516.4L269.0 514.8M238.4 562.8L245.4 562.8L252.3 546.4M237.5 590.6L244.7 590.6L247.9 581.1M242.2 641.2L249.2 641.2L251.7 630.1M258.0 702.8L265.0 702.8L275.4 675.9M310.1 745.4L316.5 745.4L318.7 717.0" stroke="#a6a6a6" stroke-width="1.1" fill="none"/>
<text transform="translate(557.0 483.2) scale(1.045 1)" font-size="20.2" fill="#F56B0F" font-weight="bold" text-anchor="middle" stroke="#F56B0F" stroke-width="0.3" stroke-linejoin="round" >Not assigned</text>
<text transform="translate(557.0 506.5) scale(1.045 1)" font-size="20.2" fill="#F56B0F" font-weight="bold" text-anchor="middle" stroke="#F56B0F" stroke-width="0.3" stroke-linejoin="round" >23%</text>
<text transform="translate(573.6 646.9) scale(1.045 1)" font-size="20.2" fill="#5FA133" font-weight="bold" text-anchor="middle" stroke="#5FA133" stroke-width="0.3" stroke-linejoin="round" >Protein</text>
<text transform="translate(573.6 670.2) scale(1.045 1)" font-size="20.2" fill="#5FA133" font-weight="bold" text-anchor="middle" stroke="#5FA133" stroke-width="0.3" stroke-linejoin="round" >15%</text>
<text transform="translate(485.5 744.8) scale(1.045 1)" font-size="20.2" fill="#FBBD00" font-weight="bold" text-anchor="middle" stroke="#FBBD00" stroke-width="0.3" stroke-linejoin="round" >RNA</text>
<text transform="translate(485.5 768.1) scale(1.045 1)" font-size="20.2" fill="#FBBD00" font-weight="bold" text-anchor="middle" stroke="#FBBD00" stroke-width="0.3" stroke-linejoin="round" >10%</text>
<text transform="translate(377.2 759.6) scale(1.045 1)" font-size="20.2" fill="#906C00" font-weight="bold" text-anchor="middle" stroke="#906C00" stroke-width="0.3" stroke-linejoin="round" >Signalling</text>
<text transform="translate(377.2 782.9) scale(1.045 1)" font-size="20.2" fill="#906C00" font-weight="bold" text-anchor="middle" stroke="#906C00" stroke-width="0.3" stroke-linejoin="round" >7%</text>
<text transform="translate(241.6 741.3) scale(1.045 1)" font-size="20.2" fill="#9B4206" font-weight="bold" text-anchor="middle" stroke="#9B4206" stroke-width="0.3" stroke-linejoin="round" >Cell &amp; Cell wall</text>
<text transform="translate(241.6 764.6) scale(1.045 1)" font-size="20.2" fill="#9B4206" font-weight="bold" text-anchor="middle" stroke="#9B4206" stroke-width="0.3" stroke-linejoin="round" >7%</text>
<text transform="translate(162.0 691.7) scale(1.045 1)" font-size="20.2" fill="#FBBD00" font-weight="bold" text-anchor="middle" stroke="#FBBD00" stroke-width="0.3" stroke-linejoin="round" >Misc other phosphate</text>
<text transform="translate(162.0 715.0) scale(1.045 1)" font-size="20.2" fill="#FBBD00" font-weight="bold" text-anchor="middle" stroke="#FBBD00" stroke-width="0.3" stroke-linejoin="round" >6%</text>
<text transform="translate(215.0 643.0) scale(1.045 1)" font-size="20.2" fill="#78BA4D" font-weight="bold" text-anchor="middle" stroke="#78BA4D" stroke-width="0.3" stroke-linejoin="round" >Stress</text>
<text transform="translate(215.0 666.3) scale(1.045 1)" font-size="20.2" fill="#78BA4D" font-weight="bold" text-anchor="middle" stroke="#78BA4D" stroke-width="0.3" stroke-linejoin="round" >6%</text>
<text transform="translate(190.0 591.9) scale(1.045 1)" font-size="20.2" fill="#F68236" font-weight="bold" text-anchor="middle" stroke="#F68236" stroke-width="0.3" stroke-linejoin="round" >Transport</text>
<text transform="translate(190.0 615.2) scale(1.045 1)" font-size="20.2" fill="#F68236" font-weight="bold" text-anchor="middle" stroke="#F68236" stroke-width="0.3" stroke-linejoin="round" >6%</text>
<text transform="translate(187.0 550.5) scale(1.045 1)" font-size="20.2" fill="#2A5815" font-weight="bold" text-anchor="middle" stroke="#2A5815" stroke-width="0.3" stroke-linejoin="round" >Development</text>
<text transform="translate(187.0 573.8) scale(1.045 1)" font-size="20.2" fill="#2A5815" font-weight="bold" text-anchor="middle" stroke="#2A5815" stroke-width="0.3" stroke-linejoin="round" >4%</text>
<text transform="translate(159.4 505.3) scale(1.045 1)" font-size="20.2" fill="#C64D04" font-weight="bold" text-anchor="middle" stroke="#C64D04" stroke-width="0.3" stroke-linejoin="round" >Hormone metabolism</text>
<text transform="translate(159.4 528.6) scale(1.045 1)" font-size="20.2" fill="#C64D04" font-weight="bold" text-anchor="middle" stroke="#C64D04" stroke-width="0.3" stroke-linejoin="round" >3%</text>
<text transform="translate(255.2 462.7) scale(1.045 1)" font-size="20.2" fill="#C09100" font-weight="bold" text-anchor="middle" stroke="#C09100" stroke-width="0.3" stroke-linejoin="round" >DNA</text>
<text transform="translate(255.2 486.0) scale(1.045 1)" font-size="20.2" fill="#C09100" font-weight="bold" text-anchor="middle" stroke="#C09100" stroke-width="0.3" stroke-linejoin="round" >3%</text>
<g transform="translate(997.8 597.3) scale(1.5140 1.4680)">
<circle r="101.2" fill="#5a6a80" opacity="0.22" filter="url(#pshadow)"/>
<path d="M0 0L0.00 -100.00A100 100 0 0 1 99.96 2.97Z" fill="#ED7D31" stroke="#ED7D31" stroke-width="0.3" stroke-linejoin="round"/>
<path d="M0 0L99.96 2.97A100 100 0 0 1 65.61 75.47Z" fill="#FFC000" stroke="#FFC000" stroke-width="0.3" stroke-linejoin="round"/>
<path d="M0 0L65.61 75.47A100 100 0 0 1 1.75 99.98Z" fill="#70AD47" stroke="#70AD47" stroke-width="0.3" stroke-linejoin="round"/>
<path d="M0 0L1.75 99.98A100 100 0 0 1 -47.72 87.88Z" fill="#9E480E" stroke="#9E480E" stroke-width="0.3" stroke-linejoin="round"/>
<path d="M0 0L-47.72 87.88A100 100 0 0 1 -83.10 55.63Z" fill="#997300" stroke="#997300" stroke-width="0.3" stroke-linejoin="round"/>
<path d="M0 0L-83.10 55.63A100 100 0 0 1 -97.89 20.45Z" fill="#43682B" stroke="#43682B" stroke-width="0.3" stroke-linejoin="round"/>
<path d="M0 0L-97.89 20.45A100 100 0 0 1 -99.03 -13.92Z" fill="#F1975A" stroke="#F1975A" stroke-width="0.3" stroke-linejoin="round"/>
<path d="M0 0L-99.03 -13.92A100 100 0 0 1 -88.54 -46.48Z" fill="#FFCD33" stroke="#FFCD33" stroke-width="0.3" stroke-linejoin="round"/>
<path d="M0 0L-88.54 -46.48A100 100 0 0 1 -79.02 -61.29Z" fill="#8CC168" stroke="#8CC168" stroke-width="0.3" stroke-linejoin="round"/>
<path d="M0 0L-79.02 -61.29A100 100 0 0 1 -67.30 -73.96Z" fill="#D26012" stroke="#D26012" stroke-width="0.3" stroke-linejoin="round"/>
<path d="M0 0L-67.30 -73.96A100 100 0 0 1 -57.07 -82.11Z" fill="#CC9A00" stroke="#CC9A00" stroke-width="0.3" stroke-linejoin="round"/>
<path d="M0 0L-57.07 -82.11A100 100 0 0 1 -46.02 -88.78Z" fill="#5A8A39" stroke="#5A8A39" stroke-width="0.3" stroke-linejoin="round"/>
<path d="M0 0L-46.02 -88.78A100 100 0 0 1 -34.27 -93.95Z" fill="#F4B183" stroke="#F4B183" stroke-width="0.3" stroke-linejoin="round"/>
<path d="M0 0L-34.27 -93.95A100 100 0 0 1 -25.76 -96.62Z" fill="#FFD966" stroke="#FFD966" stroke-width="0.3" stroke-linejoin="round"/>
<path d="M0 0L-25.76 -96.62A100 100 0 0 1 -17.36 -98.48Z" fill="#A9D18E" stroke="#A9D18E" stroke-width="0.3" stroke-linejoin="round"/>
<path d="M0 0L-17.36 -98.48A100 100 0 0 1 -13.40 -99.10Z" fill="#843C0C" stroke="#843C0C" stroke-width="0.3" stroke-linejoin="round"/>
<path d="M0 0L-13.40 -99.10A100 100 0 0 1 -8.82 -99.61Z" fill="#7F6000" stroke="#7F6000" stroke-width="0.3" stroke-linejoin="round"/>
<path d="M0 0L-8.82 -99.61A100 100 0 0 1 -4.71 -99.89Z" fill="#375623" stroke="#375623" stroke-width="0.3" stroke-linejoin="round"/>
<path d="M0 0L-4.71 -99.89A100 100 0 0 1 -0.00 -100.00Z" fill="#F4B183" stroke="#F4B183" stroke-width="0.3" stroke-linejoin="round"/>
</g>
<path d="M1104.4 493.6L1119.4 501.3L1127.0 501.3M845.7 470.4L852.3 470.4L886.2 496.3M849.0 509.6L857.3 509.6L869.9 517.2M847.3 558.7L852.3 558.7L855.0 551.0M850.7 681.4L857.3 681.4L857.3 656.2M961.8 741.1L961.8 756.0" stroke="#a6a6a6" stroke-width="1.1" fill="none"/>
<text transform="translate(1186.6 501.9) scale(1.045 1)" font-size="21" fill="#F56B0F" font-weight="bold" text-anchor="middle" stroke="#F56B0F" stroke-width="0.3" stroke-linejoin="round" >Not assigned</text>
<text transform="translate(1186.6 526.0) scale(1.045 1)" font-size="21" fill="#F56B0F" font-weight="bold" text-anchor="middle" stroke="#F56B0F" stroke-width="0.3" stroke-linejoin="round" >26%</text>
<text transform="translate(1162.5 671.1) scale(1.045 1)" font-size="21" fill="#FBBD00" font-weight="bold" text-anchor="middle" stroke="#FBBD00" stroke-width="0.3" stroke-linejoin="round" >RNA</text>
<text transform="translate(1162.5 695.2) scale(1.045 1)" font-size="21" fill="#FBBD00" font-weight="bold" text-anchor="middle" stroke="#FBBD00" stroke-width="0.3" stroke-linejoin="round" >13%</text>
<text transform="translate(1091.2 755.1) scale(1.045 1)" font-size="21" fill="#5FA133" font-weight="bold" text-anchor="middle" stroke="#5FA133" stroke-width="0.3" stroke-linejoin="round" >Protein</text>
<text transform="translate(1091.2 779.2) scale(1.045 1)" font-size="21" fill="#5FA133" font-weight="bold" text-anchor="middle" stroke="#5FA133" stroke-width="0.3" stroke-linejoin="round" >11%</text>
<text transform="translate(958.1 766.0) scale(1.045 1)" font-size="21" fill="#F36912" font-weight="bold" text-anchor="middle" stroke="#F36912" stroke-width="0.3" stroke-linejoin="round" >Cell &amp; Cell wall</text>
<text transform="translate(958.1 790.1) scale(1.045 1)" font-size="21" fill="#F36912" font-weight="bold" text-anchor="middle" stroke="#F36912" stroke-width="0.3" stroke-linejoin="round" >8%</text>
<text transform="translate(846.0 720.9) scale(1.045 1)" font-size="21" fill="#906C00" font-weight="bold" text-anchor="middle" stroke="#906C00" stroke-width="0.3" stroke-linejoin="round" >Signalling</text>
<text transform="translate(846.0 745.0) scale(1.045 1)" font-size="21" fill="#906C00" font-weight="bold" text-anchor="middle" stroke="#906C00" stroke-width="0.3" stroke-linejoin="round" >8%</text>
<text transform="translate(793.6 668.8) scale(1.045 1)" font-size="21" fill="#2A5815" font-weight="bold" text-anchor="middle" stroke="#2A5815" stroke-width="0.3" stroke-linejoin="round" >Development</text>
<text transform="translate(793.6 692.9) scale(1.045 1)" font-size="21" fill="#2A5815" font-weight="bold" text-anchor="middle" stroke="#2A5815" stroke-width="0.3" stroke-linejoin="round" >6%</text>
<text transform="translate(791.3 610.8) scale(1.045 1)" font-size="21" fill="#F68236" font-weight="bold" text-anchor="middle" stroke="#F68236" stroke-width="0.3" stroke-linejoin="round" >Transport</text>
<text transform="translate(791.3 634.9) scale(1.045 1)" font-size="21" fill="#F68236" font-weight="bold" text-anchor="middle" stroke="#F68236" stroke-width="0.3" stroke-linejoin="round" >6%</text>
<text transform="translate(747.8 555.4) scale(1.045 1)" font-size="21" fill="#FBBD00" font-weight="bold" text-anchor="middle" stroke="#FBBD00" stroke-width="0.3" stroke-linejoin="round" >Misc other phosphate</text>
<text transform="translate(747.8 579.5) scale(1.045 1)" font-size="21" fill="#FBBD00" font-weight="bold" text-anchor="middle" stroke="#FBBD00" stroke-width="0.3" stroke-linejoin="round" >6%</text>
<text transform="translate(819.6 508.9) scale(1.045 1)" font-size="21" fill="#78BA4D" font-weight="bold" text-anchor="middle" stroke="#78BA4D" stroke-width="0.3" stroke-linejoin="round" >Stress</text>
<text transform="translate(819.6 533.0) scale(1.045 1)" font-size="21" fill="#78BA4D" font-weight="bold" text-anchor="middle" stroke="#78BA4D" stroke-width="0.3" stroke-linejoin="round" >3%</text>
<text transform="translate(761.8 468.1) scale(1.045 1)" font-size="21" fill="#C24B04" font-weight="bold" text-anchor="middle" stroke="#C24B04" stroke-width="0.3" stroke-linejoin="round" >Hormone metabolism</text>
<text transform="translate(761.8 492.2) scale(1.045 1)" font-size="21" fill="#C24B04" font-weight="bold" text-anchor="middle" stroke="#C24B04" stroke-width="0.3" stroke-linejoin="round" >3%</text>
<g transform="translate(1634.7 596.4) scale(1.5100 1.4720)">
<circle r="101.2" fill="#5a6a80" opacity="0.22" filter="url(#pshadow)"/>
<path d="M0 0L0.00 -100.00A100 100 0 0 1 98.36 18.05Z" fill="#70AD47" stroke="#70AD47" stroke-width="0.3" stroke-linejoin="round"/>
<path d="M0 0L98.36 18.05A100 100 0 0 1 51.50 85.72Z" fill="#5B9BD5" stroke="#5B9BD5" stroke-width="0.3" stroke-linejoin="round"/>
<path d="M0 0L51.50 85.72A100 100 0 0 1 -29.24 95.63Z" fill="#FFC000" stroke="#FFC000" stroke-width="0.3" stroke-linejoin="round"/>
<path d="M0 0L-29.24 95.63A100 100 0 0 1 -71.08 70.34Z" fill="#97731A" stroke="#97731A" stroke-width="0.3" stroke-linejoin="round"/>
<path d="M0 0L-71.08 70.34A100 100 0 0 1 -92.78 37.30Z" fill="#255E91" stroke="#255E91" stroke-width="0.3" stroke-linejoin="round"/>
<path d="M0 0L-92.78 37.30A100 100 0 0 1 -99.72 7.50Z" fill="#8CC168" stroke="#8CC168" stroke-width="0.3" stroke-linejoin="round"/>
<path d="M0 0L-99.72 7.50A100 100 0 0 1 -97.15 -23.68Z" fill="#FFCD33" stroke="#FFCD33" stroke-width="0.3" stroke-linejoin="round"/>
<path d="M0 0L-97.15 -23.68A100 100 0 0 1 -88.78 -46.02Z" fill="#8CC168" stroke="#8CC168" stroke-width="0.3" stroke-linejoin="round"/>
<path d="M0 0L-88.78 -46.02A100 100 0 0 1 -76.49 -64.41Z" fill="#7CAFDD" stroke="#7CAFDD" stroke-width="0.3" stroke-linejoin="round"/>
<path d="M0 0L-76.49 -64.41A100 100 0 0 1 -65.21 -75.81Z" fill="#5A8A39" stroke="#5A8A39" stroke-width="0.3" stroke-linejoin="round"/>
<path d="M0 0L-65.21 -75.81A100 100 0 0 1 -54.99 -83.52Z" fill="#327DC2" stroke="#327DC2" stroke-width="0.3" stroke-linejoin="round"/>
<path d="M0 0L-54.99 -83.52A100 100 0 0 1 -46.79 -88.38Z" fill="#CC9A00" stroke="#CC9A00" stroke-width="0.3" stroke-linejoin="round"/>
<path d="M0 0L-46.79 -88.38A100 100 0 0 1 -39.51 -91.87Z" fill="#A9D18E" stroke="#A9D18E" stroke-width="0.3" stroke-linejoin="round"/>
<path d="M0 0L-39.51 -91.87A100 100 0 0 1 -32.31 -94.64Z" fill="#9DC3E6" stroke="#9DC3E6" stroke-width="0.3" stroke-linejoin="round"/>
<path d="M0 0L-32.31 -94.64A100 100 0 0 1 -26.29 -96.48Z" fill="#FFD966" stroke="#FFD966" stroke-width="0.3" stroke-linejoin="round"/>
<path d="M0 0L-26.29 -96.48A100 100 0 0 1 -23.34 -97.24Z" fill="#375623" stroke="#375623" stroke-width="0.3" stroke-linejoin="round"/>
<path d="M0 0L-23.34 -97.24A100 100 0 0 1 -20.42 -97.89Z" fill="#1F4E79" stroke="#1F4E79" stroke-width="0.3" stroke-linejoin="round"/>
<path d="M0 0L-20.42 -97.89A100 100 0 0 1 -17.49 -98.46Z" fill="#7F6000" stroke="#7F6000" stroke-width="0.3" stroke-linejoin="round"/>
<path d="M0 0L-17.49 -98.46A100 100 0 0 1 -13.74 -99.05Z" fill="#8CC168" stroke="#8CC168" stroke-width="0.3" stroke-linejoin="round"/>
<path d="M0 0L-13.74 -99.05A100 100 0 0 1 -10.97 -99.40Z" fill="#7CAFDD" stroke="#7CAFDD" stroke-width="0.3" stroke-linejoin="round"/>
<path d="M0 0L-10.97 -99.40A100 100 0 0 1 -9.53 -99.54Z" fill="#FFCD33" stroke="#FFCD33" stroke-width="0.3" stroke-linejoin="round"/>
<path d="M0 0L-9.53 -99.54A100 100 0 0 1 -8.02 -99.68Z" fill="#5A8A39" stroke="#5A8A39" stroke-width="0.3" stroke-linejoin="round"/>
<path d="M0 0L-8.02 -99.68A100 100 0 0 1 -6.37 -99.80Z" fill="#327DC2" stroke="#327DC2" stroke-width="0.3" stroke-linejoin="round"/>
<path d="M0 0L-6.37 -99.80A100 100 0 0 1 -4.94 -99.88Z" fill="#CC9A00" stroke="#CC9A00" stroke-width="0.3" stroke-linejoin="round"/>
<path d="M0 0L-4.94 -99.88A100 100 0 0 1 -3.44 -99.94Z" fill="#C5E0B4" stroke="#C5E0B4" stroke-width="0.3" stroke-linejoin="round"/>
<path d="M0 0L-3.44 -99.94A100 100 0 0 1 -1.57 -99.99Z" fill="#BDD7EE" stroke="#BDD7EE" stroke-width="0.3" stroke-linejoin="round"/>
<path d="M0 0L-1.57 -99.99A100 100 0 0 1 -0.00 -100.00Z" fill="#FFE699" stroke="#FFE699" stroke-width="0.3" stroke-linejoin="round"/>
</g>
<path d="M1753.0 504.5L1761.2 504.5M1760.2 681.7L1761.2 689.0L1767.9 689.0M1518.5 454.4L1524.2 454.4L1527.0 490.8M1475.4 496.2L1482.0 496.2L1509.2 513.4M1483.7 545.9L1491.3 545.9L1492.6 542.6M1472.7 588.9L1480.3 588.9L1483.0 580.7M1477.0 641.3L1484.6 641.3L1487.0 632.0M1491.3 699.9L1498.6 699.9L1507.8 681.7" stroke="#a6a6a6" stroke-width="1.1" fill="none"/>
<text transform="translate(1821.0 503.8) scale(1.045 1)" font-size="21" fill="#5FA133" font-weight="bold" text-anchor="middle" stroke="#5FA133" stroke-width="0.3" stroke-linejoin="round" >Not assigned</text>
<text transform="translate(1821.0 527.9) scale(1.045 1)" font-size="21" fill="#5FA133" font-weight="bold" text-anchor="middle" stroke="#5FA133" stroke-width="0.3" stroke-linejoin="round" >28%</text>
<text transform="translate(1803.1 689.0) scale(1.045 1)" font-size="21" fill="#4692D8" font-weight="bold" text-anchor="middle" stroke="#4692D8" stroke-width="0.3" stroke-linejoin="round" >Protein</text>
<text transform="translate(1803.1 713.1) scale(1.045 1)" font-size="21" fill="#4692D8" font-weight="bold" text-anchor="middle" stroke="#4692D8" stroke-width="0.3" stroke-linejoin="round" >14%</text>
<text transform="translate(1661.7 765.5) scale(1.045 1)" font-size="21" fill="#FBBD00" font-weight="bold" text-anchor="middle" stroke="#FBBD00" stroke-width="0.3" stroke-linejoin="round" >RNA</text>
<text transform="translate(1661.7 789.6) scale(1.045 1)" font-size="21" fill="#FBBD00" font-weight="bold" text-anchor="middle" stroke="#FBBD00" stroke-width="0.3" stroke-linejoin="round" >13%</text>
<text transform="translate(1511.3 743.0) scale(1.045 1)" font-size="21" fill="#88650D" font-weight="bold" text-anchor="middle" stroke="#88650D" stroke-width="0.3" stroke-linejoin="round" >Signalling</text>
<text transform="translate(1511.3 767.1) scale(1.045 1)" font-size="21" fill="#88650D" font-weight="bold" text-anchor="middle" stroke="#88650D" stroke-width="0.3" stroke-linejoin="round" >8%</text>
<text transform="translate(1423.4 695.9) scale(1.045 1)" font-size="21" fill="#194A76" font-weight="bold" text-anchor="middle" stroke="#194A76" stroke-width="0.3" stroke-linejoin="round" >Cell &amp; Cell wall</text>
<text transform="translate(1423.4 720.0) scale(1.045 1)" font-size="21" fill="#194A76" font-weight="bold" text-anchor="middle" stroke="#194A76" stroke-width="0.3" stroke-linejoin="round" >6%</text>
<text transform="translate(1447.5 640.6) scale(1.045 1)" font-size="21" fill="#78BA4D" font-weight="bold" text-anchor="middle" stroke="#78BA4D" stroke-width="0.3" stroke-linejoin="round" >Stress</text>
<text transform="translate(1447.5 664.7) scale(1.045 1)" font-size="21" fill="#78BA4D" font-weight="bold" text-anchor="middle" stroke="#78BA4D" stroke-width="0.3" stroke-linejoin="round" >5%</text>
<text transform="translate(1424.0 588.9) scale(1.045 1)" font-size="21" fill="#FFCC2E" font-weight="bold" text-anchor="middle" stroke="#FFCC2E" stroke-width="0.3" stroke-linejoin="round" >Transport</text>
<text transform="translate(1424.0 613.0) scale(1.045 1)" font-size="21" fill="#FFCC2E" font-weight="bold" text-anchor="middle" stroke="#FFCC2E" stroke-width="0.3" stroke-linejoin="round" >5%</text>
<text transform="translate(1379.3 538.6) scale(1.045 1)" font-size="21" fill="#78BA4D" font-weight="bold" text-anchor="middle" stroke="#78BA4D" stroke-width="0.3" stroke-linejoin="round" >Misc other phosphate</text>
<text transform="translate(1379.3 562.7) scale(1.045 1)" font-size="21" fill="#78BA4D" font-weight="bold" text-anchor="middle" stroke="#78BA4D" stroke-width="0.3" stroke-linejoin="round" >4%</text>
<text transform="translate(1419.2 493.4) scale(1.045 1)" font-size="21" fill="#66A5DE" font-weight="bold" text-anchor="middle" stroke="#66A5DE" stroke-width="0.3" stroke-linejoin="round" >Development</text>
<text transform="translate(1419.2 517.5) scale(1.045 1)" font-size="21" fill="#66A5DE" font-weight="bold" text-anchor="middle" stroke="#66A5DE" stroke-width="0.3" stroke-linejoin="round" >4%</text>
<text transform="translate(1424.4 449.0) scale(1.045 1)" font-size="21" fill="#397C1E" font-weight="bold" text-anchor="middle" stroke="#397C1E" stroke-width="0.3" stroke-linejoin="round" >Hormone metabolism</text>
<text transform="translate(1424.4 473.1) scale(1.045 1)" font-size="21" fill="#397C1E" font-weight="bold" text-anchor="middle" stroke="#397C1E" stroke-width="0.3" stroke-linejoin="round" >3%</text>
<g id="panelB">
<text x="13.8" y="928.0" font-size="43" fill="#000" font-weight="bold" text-anchor="start" stroke="#000" stroke-width="0.4" stroke-linejoin="round" >B.</text>
<rect x="135.70000000000002" y="919.3" width="16" height="17.2" fill="#ED7D31" stroke="#6e7178" stroke-width="1.7"/>
<text x="158.5" y="937.0" font-size="32.5" fill="#000" font-weight="bold" text-anchor="start" stroke="#000" stroke-width="0.4" stroke-linejoin="round" >N vs. O</text>
<rect x="298.3" y="919.3" width="16" height="17.2" fill="#FFC000" stroke="#6e7178" stroke-width="1.7"/>
<text x="321.5" y="937.0" font-size="32.5" fill="#000" font-weight="bold" text-anchor="start" stroke="#000" stroke-width="0.4" stroke-linejoin="round" >N vs. OC</text>
<rect x="484.8" y="919.3" width="16" height="17.2" fill="#70AD47" stroke="#6e7178" stroke-width="1.7"/>
<text x="508.0" y="937.0" font-size="32.5" fill="#000" font-weight="bold" text-anchor="start" stroke="#000" stroke-width="0.4" stroke-linejoin="round" >O vs. OC</text>
<rect x="85.5" y="1288.0" width="26" height="22.1" fill="#ED7D31" stroke="#6b6e75" stroke-width="1.6"/>
<rect x="85.5" y="1282.8" width="26" height="5.2" fill="#FFC000" stroke="#6b6e75" stroke-width="1.6"/>
<rect x="85.5" y="1232.1" width="26" height="50.7" fill="#70AD47" stroke="#6b6e75" stroke-width="1.6"/>
<text x="98.0" y="1351.0" font-size="28" fill="#000" font-weight="bold" text-anchor="middle" stroke="#000" stroke-width="0.4" stroke-linejoin="round" >A01</text>
<rect x="148.4" y="1308.8" width="26" height="1.3" fill="#ED7D31" stroke="#6b6e75" stroke-width="1.6"/>
<rect x="148.4" y="1302.3" width="26" height="6.5" fill="#70AD47" stroke="#6b6e75" stroke-width="1.6"/>
<text x="160.9" y="1351.0" font-size="28" fill="#000" font-weight="bold" text-anchor="middle" stroke="#000" stroke-width="0.4" stroke-linejoin="round" >A02</text>
<rect x="211.2" y="1290.6" width="26" height="19.5" fill="#ED7D31" stroke="#6b6e75" stroke-width="1.6"/>
<rect x="211.2" y="1269.8" width="26" height="20.8" fill="#FFC000" stroke="#6b6e75" stroke-width="1.6"/>
<rect x="211.2" y="1262.0" width="26" height="7.8" fill="#70AD47" stroke="#6b6e75" stroke-width="1.6"/>
<text x="223.8" y="1351.0" font-size="28" fill="#000" font-weight="bold" text-anchor="middle" stroke="#000" stroke-width="0.4" stroke-linejoin="round" >A03</text>
<rect x="274.1" y="1299.7" width="26" height="10.4" fill="#ED7D31" stroke="#6b6e75" stroke-width="1.6"/>
<rect x="274.1" y="1278.9" width="26" height="20.8" fill="#FFC000" stroke="#6b6e75" stroke-width="1.6"/>
<rect x="274.1" y="1264.6" width="26" height="14.3" fill="#70AD47" stroke="#6b6e75" stroke-width="1.6"/>
<text x="286.6" y="1351.0" font-size="28" fill="#000" font-weight="bold" text-anchor="middle" stroke="#000" stroke-width="0.4" stroke-linejoin="round" >A04</text>
<rect x="337.0" y="1232.1" width="26" height="78.0" fill="#ED7D31" stroke="#6b6e75" stroke-width="1.6"/>
<rect x="337.0" y="1225.7" width="26" height="6.5" fill="#FFC000" stroke="#6b6e75" stroke-width="1.6"/>
<rect x="337.0" y="1175.0" width="26" height="50.7" fill="#70AD47" stroke="#6b6e75" stroke-width="1.6"/>
<text x="349.5" y="1351.0" font-size="28" fill="#000" font-weight="bold" text-anchor="middle" stroke="#000" stroke-width="0.4" stroke-linejoin="round" >A05</text>
<rect x="399.8" y="1206.2" width="26" height="103.9" fill="#ED7D31" stroke="#6b6e75" stroke-width="1.6"/>
<rect x="399.8" y="1199.7" width="26" height="6.5" fill="#FFC000" stroke="#6b6e75" stroke-width="1.6"/>
<rect x="399.8" y="1002.2" width="26" height="197.5" fill="#70AD47" stroke="#6b6e75" stroke-width="1.6"/>
<text x="412.3" y="1351.0" font-size="28" fill="#000" font-weight="bold" text-anchor="middle" stroke="#000" stroke-width="0.4" stroke-linejoin="round" >A06</text>
<rect x="462.7" y="1284.1" width="26" height="26.0" fill="#ED7D31" stroke="#6b6e75" stroke-width="1.6"/>
<rect x="462.7" y="1264.6" width="26" height="19.5" fill="#FFC000" stroke="#6b6e75" stroke-width="1.6"/>
<rect x="462.7" y="1154.2" width="26" height="110.4" fill="#70AD47" stroke="#6b6e75" stroke-width="1.6"/>
<text x="475.2" y="1351.0" font-size="28" fill="#000" font-weight="bold" text-anchor="middle" stroke="#000" stroke-width="0.4" stroke-linejoin="round" >A07</text>
<rect x="525.5" y="1238.6" width="26" height="71.5" fill="#ED7D31" stroke="#6b6e75" stroke-width="1.6"/>
<rect x="525.5" y="1165.9" width="26" height="72.8" fill="#FFC000" stroke="#6b6e75" stroke-width="1.6"/>
<rect x="525.5" y="1145.1" width="26" height="20.8" fill="#70AD47" stroke="#6b6e75" stroke-width="1.6"/>
<text x="538.0" y="1351.0" font-size="28" fill="#000" font-weight="bold" text-anchor="middle" stroke="#000" stroke-width="0.4" stroke-linejoin="round" >A08</text>
<rect x="588.4" y="1289.3" width="26" height="20.8" fill="#ED7D31" stroke="#6b6e75" stroke-width="1.6"/>
<rect x="588.4" y="1269.8" width="26" height="19.5" fill="#FFC000" stroke="#6b6e75" stroke-width="1.6"/>
<rect x="588.4" y="1267.2" width="26" height="2.6" fill="#70AD47" stroke="#6b6e75" stroke-width="1.6"/>
<text x="600.9" y="1351.0" font-size="28" fill="#000" font-weight="bold" text-anchor="middle" stroke="#000" stroke-width="0.4" stroke-linejoin="round" >A09</text>
<rect x="651.3" y="1293.2" width="26" height="16.9" fill="#FFC000" stroke="#6b6e75" stroke-width="1.6"/>
<rect x="651.3" y="1237.3" width="26" height="55.9" fill="#70AD47" stroke="#6b6e75" stroke-width="1.6"/>
<text x="663.8" y="1351.0" font-size="28" fill="#000" font-weight="bold" text-anchor="middle" stroke="#000" stroke-width="0.4" stroke-linejoin="round" >A10</text>
<path d="M67.1 984.5999999999999V1317.6M67.1 1310.1H696.4000000000001M67.1 985.3h8.5M67.1 1050.3h8.5M67.1 1115.2h8.5M67.1 1180.2h8.5M67.1 1245.1h8.5M130.0 1310.1v7.5M192.8 1310.1v7.5M255.7 1310.1v7.5M318.5 1310.1v7.5M381.4 1310.1v7.5M444.3 1310.1v7.5M507.1 1310.1v7.5M570.0 1310.1v7.5M632.8 1310.1v7.5M695.7 1310.1v7.5" stroke="#707070" stroke-width="1.9" fill="none"/>
<text x="43.0" y="993.2" font-size="28.2" fill="#000" font-weight="bold" text-anchor="end" stroke="#000" stroke-width="0.4" stroke-linejoin="round" >250</text>
<text x="43.0" y="1058.2" font-size="28.2" fill="#000" font-weight="bold" text-anchor="end" stroke="#000" stroke-width="0.4" stroke-linejoin="round" >200</text>
<text x="43.0" y="1123.1" font-size="28.2" fill="#000" font-weight="bold" text-anchor="end" stroke="#000" stroke-width="0.4" stroke-linejoin="round" >150</text>
<text x="43.0" y="1188.1" font-size="28.2" fill="#000" font-weight="bold" text-anchor="end" stroke="#000" stroke-width="0.4" stroke-linejoin="round" >100</text>
<text x="43.0" y="1253.0" font-size="28.2" fill="#000" font-weight="bold" text-anchor="end" stroke="#000" stroke-width="0.4" stroke-linejoin="round" >50</text>
<text x="43.0" y="1318.0" font-size="28.2" fill="#000" font-weight="bold" text-anchor="end" stroke="#000" stroke-width="0.4" stroke-linejoin="round" >0</text>
</g>
<g id="table">
<rect x="828.3" y="943.5" width="122.7" height="414" fill="#F8CBAD"/>
<rect x="951" y="943.5" width="134.8" height="414" fill="#FFE699"/>
<rect x="1085.8" y="943.5" width="122.0" height="414" fill="#C5E0B4"/>
<path d="M755 900H1207.8" stroke="#000" stroke-width="1.8"/>
<path d="M755 942.6H1207.8M755 1358.5H1207.8" stroke="#000" stroke-width="2.4"/>
<text transform="translate(889.5 932.0) scale(0.96 1)" font-size="31.2" fill="#000" font-weight="bold" text-anchor="middle" stroke="#000" stroke-width="0.4" stroke-linejoin="round" >N vs. O</text>
<text transform="translate(1017.7 932.0) scale(0.96 1)" font-size="31.2" fill="#000" font-weight="bold" text-anchor="middle" stroke="#000" stroke-width="0.4" stroke-linejoin="round" >N vs. OC</text>
<text transform="translate(1146.3 932.0) scale(0.96 1)" font-size="31.2" fill="#000" font-weight="bold" text-anchor="middle" stroke="#000" stroke-width="0.4" stroke-linejoin="round" >O vs. OC</text>
<text transform="translate(767.9 972.7) scale(0.99 1)" font-size="27.3" fill="#000" font-weight="bold" text-anchor="start" stroke="#000" stroke-width="0.4" stroke-linejoin="round" >A01</text>
<text transform="translate(889.5 973.0) scale(0.97 1)" font-size="28.2" fill="#000" font-weight="normal" text-anchor="middle" stroke="#000" stroke-width="0.4" stroke-linejoin="round" >17</text>
<text transform="translate(1018.3 973.0) scale(0.97 1)" font-size="28.2" fill="#000" font-weight="normal" text-anchor="middle" stroke="#000" stroke-width="0.4" stroke-linejoin="round" >4</text>
<text transform="translate(1146.0 973.0) scale(0.97 1)" font-size="28.2" fill="#000" font-weight="normal" text-anchor="middle" stroke="#000" stroke-width="0.4" stroke-linejoin="round" >39</text>
<text transform="translate(767.9 1014.3) scale(0.99 1)" font-size="27.3" fill="#000" font-weight="bold" text-anchor="start" stroke="#000" stroke-width="0.4" stroke-linejoin="round" >A02</text>
<text transform="translate(889.5 1014.6) scale(0.97 1)" font-size="28.2" fill="#000" font-weight="normal" text-anchor="middle" stroke="#000" stroke-width="0.4" stroke-linejoin="round" >1</text>
<text transform="translate(1018.3 1014.6) scale(0.97 1)" font-size="28.2" fill="#000" font-weight="normal" text-anchor="middle" stroke="#000" stroke-width="0.4" stroke-linejoin="round" >0</text>
<text transform="translate(1146.0 1014.6) scale(0.97 1)" font-size="28.2" fill="#000" font-weight="normal" text-anchor="middle" stroke="#000" stroke-width="0.4" stroke-linejoin="round" >5</text>
<text transform="translate(767.9 1055.9) scale(0.99 1)" font-size="27.3" fill="#000" font-weight="bold" text-anchor="start" stroke="#000" stroke-width="0.4" stroke-linejoin="round" >A03</text>
<text transform="translate(889.5 1056.2) scale(0.97 1)" font-size="28.2" fill="#000" font-weight="normal" text-anchor="middle" stroke="#000" stroke-width="0.4" stroke-linejoin="round" >15</text>
<text transform="translate(1018.3 1056.2) scale(0.97 1)" font-size="28.2" fill="#000" font-weight="normal" text-anchor="middle" stroke="#000" stroke-width="0.4" stroke-linejoin="round" >16</text>
<text transform="translate(1146.0 1056.2) scale(0.97 1)" font-size="28.2" fill="#000" font-weight="normal" text-anchor="middle" stroke="#000" stroke-width="0.4" stroke-linejoin="round" >6</text>
<text transform="translate(767.9 1097.5) scale(0.99 1)" font-size="27.3" fill="#000" font-weight="bold" text-anchor="start" stroke="#000" stroke-width="0.4" stroke-linejoin="round" >A04</text>
<text transform="translate(889.5 1097.8) scale(0.97 1)" font-size="28.2" fill="#000" font-weight="normal" text-anchor="middle" stroke="#000" stroke-width="0.4" stroke-linejoin="round" >8</text>
<text transform="translate(1018.3 1097.8) scale(0.97 1)" font-size="28.2" fill="#000" font-weight="normal" text-anchor="middle" stroke="#000" stroke-width="0.4" stroke-linejoin="round" >16</text>
<text transform="translate(1146.0 1097.8) scale(0.97 1)" font-size="28.2" fill="#000" font-weight="normal" text-anchor="middle" stroke="#000" stroke-width="0.4" stroke-linejoin="round" >11</text>
<text transform="translate(767.9 1139.1) scale(0.99 1)" font-size="27.3" fill="#000" font-weight="bold" text-anchor="start" stroke="#000" stroke-width="0.4" stroke-linejoin="round" >A05</text>
<text transform="translate(889.5 1139.4) scale(0.97 1)" font-size="28.2" fill="#000" font-weight="normal" text-anchor="middle" stroke="#000" stroke-width="0.4" stroke-linejoin="round" >60</text>
<text transform="translate(1018.3 1139.4) scale(0.97 1)" font-size="28.2" fill="#000" font-weight="normal" text-anchor="middle" stroke="#000" stroke-width="0.4" stroke-linejoin="round" >5</text>
<text transform="translate(1146.0 1139.4) scale(0.97 1)" font-size="28.2" fill="#000" font-weight="normal" text-anchor="middle" stroke="#000" stroke-width="0.4" stroke-linejoin="round" >39</text>
<text transform="translate(767.9 1180.7) scale(0.99 1)" font-size="27.3" fill="#000" font-weight="bold" text-anchor="start" stroke="#000" stroke-width="0.4" stroke-linejoin="round" >A06</text>
<text transform="translate(889.5 1181.0) scale(0.97 1)" font-size="28.2" fill="#000" font-weight="normal" text-anchor="middle" stroke="#000" stroke-width="0.4" stroke-linejoin="round" >80</text>
<text transform="translate(1018.3 1181.0) scale(0.97 1)" font-size="28.2" fill="#000" font-weight="normal" text-anchor="middle" stroke="#000" stroke-width="0.4" stroke-linejoin="round" >5</text>
<text transform="translate(1146.0 1181.0) scale(0.97 1)" font-size="28.2" fill="#000" font-weight="normal" text-anchor="middle" stroke="#000" stroke-width="0.4" stroke-linejoin="round" >152</text>
<text transform="translate(767.9 1222.3) scale(0.99 1)" font-size="27.3" fill="#000" font-weight="bold" text-anchor="start" stroke="#000" stroke-width="0.4" stroke-linejoin="round" >A07</text>
<text transform="translate(889.5 1222.6) scale(0.97 1)" font-size="28.2" fill="#000" font-weight="normal" text-anchor="middle" stroke="#000" stroke-width="0.4" stroke-linejoin="round" >20</text>
<text transform="translate(1018.3 1222.6) scale(0.97 1)" font-size="28.2" fill="#000" font-weight="normal" text-anchor="middle" stroke="#000" stroke-width="0.4" stroke-linejoin="round" >15</text>
<text transform="translate(1146.0 1222.6) scale(0.97 1)" font-size="28.2" fill="#000" font-weight="normal" text-anchor="middle" stroke="#000" stroke-width="0.4" stroke-linejoin="round" >85</text>
<text transform="translate(767.9 1263.9) scale(0.99 1)" font-size="27.3" fill="#000" font-weight="bold" text-anchor="start" stroke="#000" stroke-width="0.4" stroke-linejoin="round" >A08</text>
<text transform="translate(889.5 1264.2) scale(0.97 1)" font-size="28.2" fill="#000" font-weight="normal" text-anchor="middle" stroke="#000" stroke-width="0.4" stroke-linejoin="round" >55</text>
<text transform="translate(1018.3 1264.2) scale(0.97 1)" font-size="28.2" fill="#000" font-weight="normal" text-anchor="middle" stroke="#000" stroke-width="0.4" stroke-linejoin="round" >56</text>
<text transform="translate(1146.0 1264.2) scale(0.97 1)" font-size="28.2" fill="#000" font-weight="normal" text-anchor="middle" stroke="#000" stroke-width="0.4" stroke-linejoin="round" >16</text>
<text transform="translate(767.9 1305.5) scale(0.99 1)" font-size="27.3" fill="#000" font-weight="bold" text-anchor="start" stroke="#000" stroke-width="0.4" stroke-linejoin="round" >A09</text>
<text transform="translate(889.5 1305.8) scale(0.97 1)" font-size="28.2" fill="#000" font-weight="normal" text-anchor="middle" stroke="#000" stroke-width="0.4" stroke-linejoin="round" >16</text>
<text transform="translate(1018.3 1305.8) scale(0.97 1)" font-size="28.2" fill="#000" font-weight="normal" text-anchor="middle" stroke="#000" stroke-width="0.4" stroke-linejoin="round" >15</text>
<text transform="translate(1146.0 1305.8) scale(0.97 1)" font-size="28.2" fill="#000" font-weight="normal" text-anchor="middle" stroke="#000" stroke-width="0.4" stroke-linejoin="round" >2</text>
<text transform="translate(767.9 1347.1) scale(0.99 1)" font-size="27.3" fill="#000" font-weight="bold" text-anchor="start" stroke="#000" stroke-width="0.4" stroke-linejoin="round" >A10</text>
<text transform="translate(889.5 1347.4) scale(0.97 1)" font-size="28.2" fill="#000" font-weight="normal" text-anchor="middle" stroke="#000" stroke-width="0.4" stroke-linejoin="round" >0</text>
<text transform="translate(1018.3 1347.4) scale(0.97 1)" font-size="28.2" fill="#000" font-weight="normal" text-anchor="middle" stroke="#000" stroke-width="0.4" stroke-linejoin="round" >13</text>
<text transform="translate(1146.0 1347.4) scale(0.97 1)" font-size="28.2" fill="#000" font-weight="normal" text-anchor="middle" stroke="#000" stroke-width="0.4" stroke-linejoin="round" >43</text>
</g>
<g id="venn">
<ellipse cx="1529.2" cy="1189.7" rx="220.2" ry="137.1" transform="rotate(39.9 1529.2 1189.7)" fill="#EE7E39" fill-opacity="0.55"/>
<ellipse cx="1602.4" cy="1116.9" rx="220.2" ry="137.1" transform="rotate(39.9 1602.4 1116.9)" fill="#EBD929" fill-opacity="0.5"/>
<ellipse cx="1622.0" cy="1116.9" rx="220.2" ry="137.1" transform="rotate(-39.9 1622.0 1116.9)" fill="#209E13" fill-opacity="0.53"/>
<ellipse cx="1696.0" cy="1189.7" rx="220.2" ry="137.1" transform="rotate(-39.9 1696.0 1189.7)" fill="#5799E3" fill-opacity="0.5"/>
<text transform="translate(1290.5 928.0) scale(0.95 1)" font-size="45" fill="#000" font-weight="bold" text-anchor="start" stroke="#000" stroke-width="0.4" stroke-linejoin="round" >C.</text>
<text transform="translate(1456.3 935.0) scale(0.9 1)" font-size="28" fill="#DCD22E" font-weight="bold" text-anchor="middle" stroke="#DCD22E" stroke-width="0.3" stroke-linejoin="round" >N vs. OC</text>
<text transform="translate(1762.5 932.6) scale(0.9 1)" font-size="28" fill="#108010" font-weight="bold" text-anchor="middle" stroke="#108010" stroke-width="0.3" stroke-linejoin="round" >OC vs. O</text>
<text transform="translate(1364.0 1009.7) scale(0.9 1)" font-size="28" fill="#E0681A" font-weight="bold" text-anchor="middle" stroke="#E0681A" stroke-width="0.3" stroke-linejoin="round" >N vs. O</text>
<text transform="translate(1854.4 1006.8) scale(0.9 1)" font-size="28" fill="#4A90D9" font-weight="bold" text-anchor="middle" stroke="#4A90D9" stroke-width="0.3" stroke-linejoin="round" >QTL</text>
<text transform="translate(1486.0 993.8) scale(1.02 1)" font-size="21.8" fill="#000" font-weight="bold" text-anchor="middle" stroke="#000" stroke-width="0.4" stroke-linejoin="round" >33</text>
<text transform="translate(1718.8 993.8) scale(1.02 1)" font-size="21.8" fill="#000" font-weight="bold" text-anchor="middle" stroke="#000" stroke-width="0.4" stroke-linejoin="round" >186</text>
<text transform="translate(1611.9 1029.6) scale(1.02 1)" font-size="21.8" fill="#000" font-weight="bold" text-anchor="middle" stroke="#000" stroke-width="0.4" stroke-linejoin="round" >30</text>
<text transform="translate(1444.5 1065.3) scale(1.02 1)" font-size="21.8" fill="#000" font-weight="bold" text-anchor="middle" stroke="#000" stroke-width="0.4" stroke-linejoin="round" >49</text>
<text transform="translate(1779.2 1065.3) scale(1.02 1)" font-size="21.8" fill="#000" font-weight="bold" text-anchor="middle" stroke="#000" stroke-width="0.4" stroke-linejoin="round" >36</text>
<text transform="translate(1511.4 1125.4) scale(1.02 1)" font-size="21.8" fill="#000" font-weight="bold" text-anchor="middle" stroke="#000" stroke-width="0.4" stroke-linejoin="round" >1</text>
<text transform="translate(1714.5 1125.4) scale(1.02 1)" font-size="21.8" fill="#000" font-weight="bold" text-anchor="middle" stroke="#000" stroke-width="0.4" stroke-linejoin="round" >2</text>
<text transform="translate(1384.8 1149.0) scale(1.02 1)" font-size="21.8" fill="#000" font-weight="bold" text-anchor="middle" stroke="#000" stroke-width="0.4" stroke-linejoin="round" >54</text>
<text transform="translate(1830.7 1149.0) scale(1.02 1)" font-size="21.8" fill="#000" font-weight="bold" text-anchor="middle" stroke="#000" stroke-width="0.4" stroke-linejoin="round" >3769</text>
<text transform="translate(1612.9 1185.1) scale(1.02 1)" font-size="21.8" fill="#000" font-weight="bold" text-anchor="middle" stroke="#000" stroke-width="0.4" stroke-linejoin="round" >1</text>
<text transform="translate(1474.5 1233.0) scale(1.02 1)" font-size="21.8" fill="#000" font-weight="bold" text-anchor="middle" stroke="#000" stroke-width="0.4" stroke-linejoin="round" >60</text>
<text transform="translate(1756.0 1233.0) scale(1.02 1)" font-size="21.8" fill="#000" font-weight="bold" text-anchor="middle" stroke="#000" stroke-width="0.4" stroke-linejoin="round" >7</text>
<text transform="translate(1533.5 1268.4) scale(1.02 1)" font-size="21.8" fill="#000" font-weight="bold" text-anchor="middle" stroke="#000" stroke-width="0.4" stroke-linejoin="round" >81</text>
<text transform="translate(1689.1 1269.2) scale(1.02 1)" font-size="21.8" fill="#000" font-weight="bold" text-anchor="middle" stroke="#000" stroke-width="0.4" stroke-linejoin="round" >22</text>
<text transform="translate(1612.9 1328.5) scale(1.02 1)" font-size="21.8" fill="#000" font-weight="bold" text-anchor="middle" stroke="#000" stroke-width="0.4" stroke-linejoin="round" >4</text>
</g>
</svg></body></html>
